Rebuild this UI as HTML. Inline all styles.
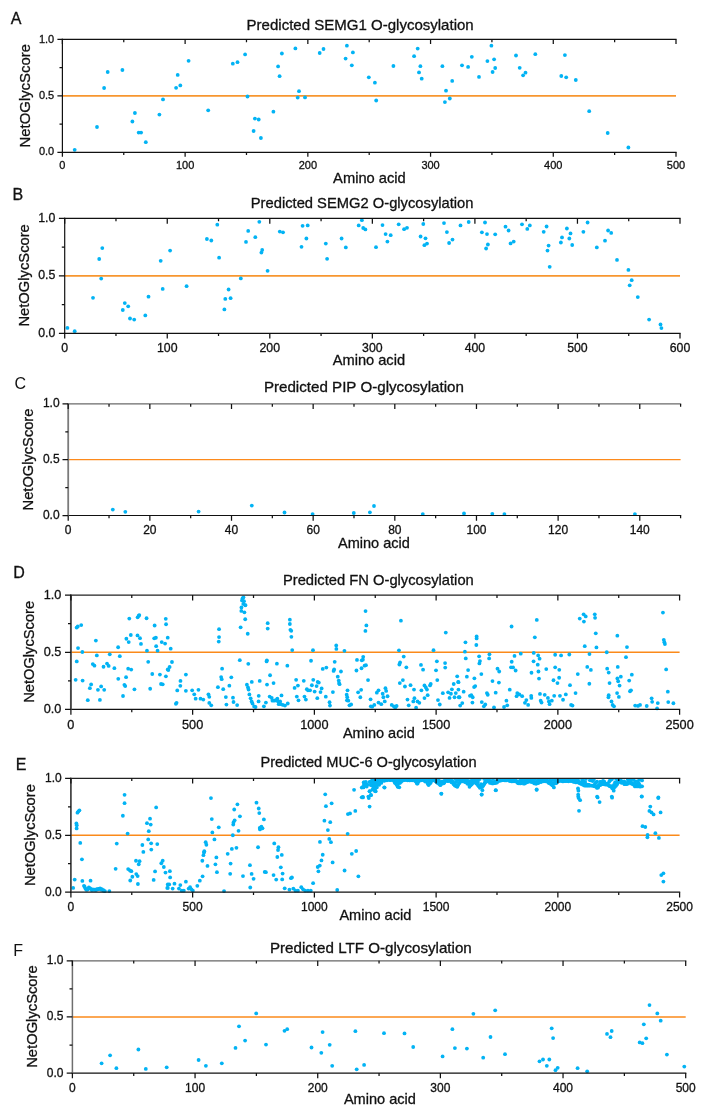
<!DOCTYPE html><html><head><meta charset="utf-8"><style>html,body{margin:0;padding:0;background:#fff;}svg{display:block;will-change:transform;filter:blur(0.3px);}text{font-family:"Liberation Sans",sans-serif;fill:#111;stroke:#111;stroke-width:0.3px;} .thin text{stroke-width:0;}</style></head><body>
<svg width="718" height="1109" viewBox="0 0 718 1109">
<rect width="718" height="1109" fill="#fff"/>
<g><clipPath id="cA"><rect x="62.4" y="39.8" width="617.6" height="115.9"/></clipPath><line x1="62.4" y1="95.85" x2="676" y2="95.85" stroke="#f7962f" stroke-width="1.7"/><g fill="#02b3f4" clip-path="url(#cA)"><circle cx="74.7" cy="149.8" r="1.9"/><circle cx="97" cy="127" r="1.9"/><circle cx="104.1" cy="88" r="1.9"/><circle cx="107.7" cy="72" r="1.9"/><circle cx="122.4" cy="70" r="1.9"/><circle cx="132.4" cy="121.5" r="1.9"/><circle cx="134.9" cy="113" r="1.9"/><circle cx="138.7" cy="132.6" r="1.9"/><circle cx="141.1" cy="132.6" r="1.9"/><circle cx="145.8" cy="142.2" r="1.9"/><circle cx="159.4" cy="114.6" r="1.9"/><circle cx="163" cy="99.4" r="1.9"/><circle cx="176.1" cy="87.8" r="1.9"/><circle cx="180.3" cy="85.4" r="1.9"/><circle cx="177.7" cy="74.9" r="1.9"/><circle cx="188.6" cy="60.8" r="1.9"/><circle cx="208.2" cy="110.3" r="1.9"/><circle cx="232.8" cy="63.7" r="1.9"/><circle cx="237.5" cy="62.2" r="1.9"/><circle cx="245.1" cy="54.4" r="1.9"/><circle cx="247.5" cy="96.5" r="1.9"/><circle cx="254.9" cy="118.6" r="1.9"/><circle cx="258.7" cy="119.5" r="1.9"/><circle cx="253.6" cy="131" r="1.9"/><circle cx="260.9" cy="138" r="1.9"/><circle cx="273.4" cy="111.7" r="1.9"/><circle cx="278.1" cy="66.4" r="1.9"/><circle cx="279.6" cy="76.2" r="1.9"/><circle cx="281.9" cy="53.5" r="1.9"/><circle cx="295.4" cy="48.4" r="1.9"/><circle cx="299" cy="91.2" r="1.9"/><circle cx="297.7" cy="97.6" r="1.9"/><circle cx="305" cy="97.4" r="1.9"/><circle cx="319.7" cy="53" r="1.9"/><circle cx="323.5" cy="49" r="1.9"/><circle cx="346.9" cy="45.7" r="1.9"/><circle cx="352.9" cy="52.4" r="1.9"/><circle cx="345.6" cy="58.6" r="1.9"/><circle cx="351.8" cy="65.3" r="1.9"/><circle cx="368.8" cy="77.3" r="1.9"/><circle cx="374.9" cy="82.7" r="1.9"/><circle cx="376.2" cy="100.5" r="1.9"/><circle cx="393.4" cy="66" r="1.9"/><circle cx="414.1" cy="56.2" r="1.9"/><circle cx="417.7" cy="48.6" r="1.9"/><circle cx="420.4" cy="66.2" r="1.9"/><circle cx="419" cy="72.4" r="1.9"/><circle cx="421.7" cy="78.7" r="1.9"/><circle cx="442.4" cy="66.2" r="1.9"/><circle cx="446" cy="90.7" r="1.9"/><circle cx="444.9" cy="102.1" r="1.9"/><circle cx="449.8" cy="98.5" r="1.9"/><circle cx="452.2" cy="80.9" r="1.9"/><circle cx="462" cy="65.3" r="1.9"/><circle cx="468.1" cy="66.9" r="1.9"/><circle cx="471.8" cy="56.8" r="1.9"/><circle cx="479" cy="76.9" r="1.9"/><circle cx="487.4" cy="61.1" r="1.9"/><circle cx="491.4" cy="45.7" r="1.9"/><circle cx="494.1" cy="59.3" r="1.9"/><circle cx="495.2" cy="68" r="1.9"/><circle cx="492.6" cy="72" r="1.9"/><circle cx="516" cy="55.5" r="1.9"/><circle cx="519.7" cy="67.8" r="1.9"/><circle cx="525.5" cy="72.7" r="1.9"/><circle cx="523.1" cy="75.3" r="1.9"/><circle cx="535.3" cy="54.2" r="1.9"/><circle cx="564.9" cy="55.1" r="1.9"/><circle cx="561.3" cy="76" r="1.9"/><circle cx="566.2" cy="77.3" r="1.9"/><circle cx="575.8" cy="80" r="1.9"/><circle cx="589.2" cy="111.2" r="1.9"/><circle cx="607.7" cy="133" r="1.9"/><circle cx="628.4" cy="147.5" r="1.9"/></g><line x1="61.8" y1="152.3" x2="676.6" y2="152.3" stroke="#111" stroke-width="1.2"/><line x1="61.8" y1="39.4" x2="676.6" y2="39.4" stroke="#111" stroke-width="1.2"/><line x1="62.4" y1="38.8" x2="62.4" y2="152.9" stroke="#111" stroke-width="1.2"/><path d="M62.4 152.3v4.5M62.4 39.4v4.5M123.76 152.3v2.8M123.76 39.4v2.8M185.12 152.3v4.5M185.12 39.4v4.5M246.48 152.3v2.8M246.48 39.4v2.8M307.84 152.3v4.5M307.84 39.4v4.5M369.2 152.3v2.8M369.2 39.4v2.8M430.56 152.3v4.5M430.56 39.4v4.5M491.92 152.3v2.8M491.92 39.4v2.8M553.28 152.3v4.5M553.28 39.4v4.5M614.64 152.3v2.8M614.64 39.4v2.8M676 152.3v4.5M676 39.4v4.5M62.4 152.3h-5.0M62.4 124.08h-2.9M62.4 95.85h-5.0M62.4 67.62h-2.9M62.4 39.4h-5.0" stroke="#111" stroke-width="1.25" fill="none"/><text x="62.4" y="169.12" font-size="11" text-anchor="middle">0</text><text x="185.12" y="169.12" font-size="11" text-anchor="middle">100</text><text x="307.84" y="169.12" font-size="11" text-anchor="middle">200</text><text x="430.56" y="169.12" font-size="11" text-anchor="middle">300</text><text x="553.28" y="169.12" font-size="11" text-anchor="middle">400</text><text x="676" y="169.12" font-size="11" text-anchor="middle">500</text><text x="54.2" y="155.46" font-size="11" text-anchor="end">0.0</text><text x="54.2" y="99.01" font-size="11" text-anchor="end">0.5</text><text x="54.2" y="42.56" font-size="11" text-anchor="end">1.0</text><text x="10.7" y="24.2" font-size="16">A</text><text x="246.6" y="29.9" font-size="14.5" textLength="227.1" lengthAdjust="spacingAndGlyphs">Predicted SEMG1 O-glycosylation</text><text x="333.1" y="182.7" font-size="14.5" textLength="72.7" lengthAdjust="spacingAndGlyphs">Amino acid</text><text transform="translate(30,95.75) rotate(-90)" x="0" y="0" font-size="15.5" text-anchor="middle" textLength="103.3" lengthAdjust="spacingAndGlyphs">NetOGlycScore</text></g>
<g><clipPath id="cB"><rect x="64.7" y="218.8" width="619.3" height="117.9"/></clipPath><line x1="64.7" y1="275.85" x2="680" y2="275.85" stroke="#f7962f" stroke-width="1.7"/><g fill="#02b3f4" clip-path="url(#cB)"><circle cx="67.4" cy="327.9" r="1.9"/><circle cx="74.7" cy="331.2" r="1.9"/><circle cx="93" cy="297.8" r="1.9"/><circle cx="99.2" cy="259" r="1.9"/><circle cx="102.3" cy="248.1" r="1.9"/><circle cx="101.2" cy="278.6" r="1.9"/><circle cx="122.8" cy="310" r="1.9"/><circle cx="124.8" cy="303.1" r="1.9"/><circle cx="128.2" cy="306.3" r="1.9"/><circle cx="130" cy="318.5" r="1.9"/><circle cx="134.2" cy="319.6" r="1.9"/><circle cx="145.3" cy="315.4" r="1.9"/><circle cx="148.5" cy="296.7" r="1.9"/><circle cx="160.7" cy="260.8" r="1.9"/><circle cx="162.7" cy="288.9" r="1.9"/><circle cx="170.1" cy="250.6" r="1.9"/><circle cx="186.6" cy="286.2" r="1.9"/><circle cx="206.9" cy="239" r="1.9"/><circle cx="211.3" cy="240.5" r="1.9"/><circle cx="217.3" cy="224.7" r="1.9"/><circle cx="219.1" cy="257.7" r="1.9"/><circle cx="224.4" cy="309.4" r="1.9"/><circle cx="225.3" cy="298.9" r="1.9"/><circle cx="230.6" cy="298.2" r="1.9"/><circle cx="228.6" cy="289.5" r="1.9"/><circle cx="240.8" cy="278.4" r="1.9"/><circle cx="246" cy="241.9" r="1.9"/><circle cx="248.2" cy="230.9" r="1.9"/><circle cx="255.3" cy="237.2" r="1.9"/><circle cx="259.3" cy="221.8" r="1.9"/><circle cx="261.4" cy="252.6" r="1.9"/><circle cx="262.2" cy="249.9" r="1.9"/><circle cx="267.6" cy="270.8" r="1.9"/><circle cx="279.8" cy="231.6" r="1.9"/><circle cx="283" cy="232.3" r="1.9"/><circle cx="301.5" cy="246.8" r="1.9"/><circle cx="302.6" cy="225.8" r="1.9"/><circle cx="307.7" cy="225.4" r="1.9"/><circle cx="306.4" cy="238.5" r="1.9"/><circle cx="325.8" cy="243.6" r="1.9"/><circle cx="327.1" cy="258.8" r="1.9"/><circle cx="341.6" cy="238.5" r="1.9"/><circle cx="345.8" cy="247.4" r="1.9"/><circle cx="358.7" cy="225.4" r="1.9"/><circle cx="361.9" cy="220.2" r="1.9"/><circle cx="363.2" cy="228" r="1.9"/><circle cx="365.4" cy="229.4" r="1.9"/><circle cx="376" cy="247.2" r="1.9"/><circle cx="382.5" cy="225.1" r="1.9"/><circle cx="385.6" cy="234.1" r="1.9"/><circle cx="390.7" cy="235.2" r="1.9"/><circle cx="387.4" cy="241.6" r="1.9"/><circle cx="398.7" cy="224.3" r="1.9"/><circle cx="404.1" cy="229.2" r="1.9"/><circle cx="407" cy="227.8" r="1.9"/><circle cx="420.6" cy="236.5" r="1.9"/><circle cx="423.3" cy="224" r="1.9"/><circle cx="425.5" cy="238.3" r="1.9"/><circle cx="424.4" cy="245.2" r="1.9"/><circle cx="427" cy="243.6" r="1.9"/><circle cx="444" cy="223.1" r="1.9"/><circle cx="446.9" cy="232.1" r="1.9"/><circle cx="449.1" cy="243" r="1.9"/><circle cx="452.5" cy="239.6" r="1.9"/><circle cx="460.5" cy="225.4" r="1.9"/><circle cx="468.7" cy="222" r="1.9"/><circle cx="485" cy="222.5" r="1.9"/><circle cx="481.9" cy="232.3" r="1.9"/><circle cx="487" cy="234.1" r="1.9"/><circle cx="495.2" cy="234.3" r="1.9"/><circle cx="487.9" cy="244.5" r="1.9"/><circle cx="486.1" cy="248.5" r="1.9"/><circle cx="505.5" cy="226.7" r="1.9"/><circle cx="508.6" cy="230.5" r="1.9"/><circle cx="510.6" cy="243.4" r="1.9"/><circle cx="513.7" cy="241.6" r="1.9"/><circle cx="522" cy="224.3" r="1.9"/><circle cx="527.3" cy="228.9" r="1.9"/><circle cx="529.8" cy="225.4" r="1.9"/><circle cx="543.7" cy="231.8" r="1.9"/><circle cx="546.6" cy="226.5" r="1.9"/><circle cx="548.6" cy="245.6" r="1.9"/><circle cx="547.5" cy="250.6" r="1.9"/><circle cx="549.7" cy="266.8" r="1.9"/><circle cx="560.9" cy="242.5" r="1.9"/><circle cx="562" cy="237.4" r="1.9"/><circle cx="566.9" cy="228.5" r="1.9"/><circle cx="570.5" cy="233.4" r="1.9"/><circle cx="569.3" cy="238.5" r="1.9"/><circle cx="572.2" cy="245" r="1.9"/><circle cx="583.4" cy="231.8" r="1.9"/><circle cx="587.6" cy="222.5" r="1.9"/><circle cx="596.8" cy="247.4" r="1.9"/><circle cx="605" cy="240.7" r="1.9"/><circle cx="608.1" cy="230.5" r="1.9"/><circle cx="611.2" cy="232.9" r="1.9"/><circle cx="617" cy="259.9" r="1.9"/><circle cx="628.4" cy="269.9" r="1.9"/><circle cx="631.7" cy="280.2" r="1.9"/><circle cx="629.7" cy="285.3" r="1.9"/><circle cx="637.8" cy="297.1" r="1.9"/><circle cx="649.1" cy="319.6" r="1.9"/><circle cx="660.5" cy="324.5" r="1.9"/><circle cx="661.4" cy="328.1" r="1.9"/></g><line x1="64.1" y1="333.3" x2="680.6" y2="333.3" stroke="#111" stroke-width="1.2"/><line x1="64.1" y1="218.4" x2="680.6" y2="218.4" stroke="#111" stroke-width="1.2"/><line x1="64.7" y1="217.8" x2="64.7" y2="333.9" stroke="#111" stroke-width="1.2"/><path d="M64.7 333.3v5.3M64.7 218.4v5.3M115.97 333.3v2.8M115.97 218.4v2.8M167.25 333.3v5.3M167.25 218.4v5.3M218.52 333.3v2.8M218.52 218.4v2.8M269.8 333.3v5.3M269.8 218.4v5.3M321.07 333.3v2.8M321.07 218.4v2.8M372.35 333.3v5.3M372.35 218.4v5.3M423.62 333.3v2.8M423.62 218.4v2.8M474.9 333.3v5.3M474.9 218.4v5.3M526.17 333.3v2.8M526.17 218.4v2.8M577.45 333.3v5.3M577.45 218.4v5.3M628.73 333.3v2.8M628.73 218.4v2.8M680 333.3v5.3M680 218.4v5.3M64.7 333.3h-5.8M64.7 304.57h-2.9M64.7 275.85h-5.8M64.7 247.12h-2.9M64.7 218.4h-5.8" stroke="#111" stroke-width="1.25" fill="none"/><text x="64.7" y="352.26" font-size="12.3" text-anchor="middle">0</text><text x="167.25" y="352.26" font-size="12.3" text-anchor="middle">100</text><text x="269.8" y="352.26" font-size="12.3" text-anchor="middle">200</text><text x="372.35" y="352.26" font-size="12.3" text-anchor="middle">300</text><text x="474.9" y="352.26" font-size="12.3" text-anchor="middle">400</text><text x="577.45" y="352.26" font-size="12.3" text-anchor="middle">500</text><text x="680" y="352.26" font-size="12.3" text-anchor="middle">600</text><text x="55.3" y="336.93" font-size="12.3" text-anchor="end">0.0</text><text x="55.3" y="279.48" font-size="12.3" text-anchor="end">0.5</text><text x="55.3" y="222.03" font-size="12.3" text-anchor="end">1.0</text><text x="12.6" y="199.8" font-size="16">B</text><text x="250.8" y="208" font-size="14.5" textLength="222.7" lengthAdjust="spacingAndGlyphs">Predicted SEMG2 O-glycosylation</text><text x="332.7" y="365.4" font-size="14.5" textLength="72.4" lengthAdjust="spacingAndGlyphs">Amino acid</text><text transform="translate(29,275.4) rotate(-90)" x="0" y="0" font-size="15.5" text-anchor="middle" textLength="102.4" lengthAdjust="spacingAndGlyphs">NetOGlycScore</text></g>
<g><clipPath id="cC"><rect x="68.2" y="404.3" width="616.4" height="114.6"/></clipPath><line x1="68.2" y1="459.7" x2="680.6" y2="459.7" stroke="#fd8a1c" stroke-width="1.3"/><g fill="#02b3f4" clip-path="url(#cC)"><circle cx="112.8" cy="509.6" r="1.9"/><circle cx="125.3" cy="511.8" r="1.9"/><circle cx="198.6" cy="511.6" r="1.9"/><circle cx="251.8" cy="505.6" r="1.9"/><circle cx="284.5" cy="512.5" r="1.9"/><circle cx="312.6" cy="514.1" r="1.9"/><circle cx="353.8" cy="513" r="1.9"/><circle cx="369.9" cy="512.3" r="1.9"/><circle cx="374" cy="506" r="1.9"/><circle cx="422.8" cy="514.1" r="1.9"/><circle cx="464" cy="513.4" r="1.9"/><circle cx="492.3" cy="513.8" r="1.9"/><circle cx="504.4" cy="514.1" r="1.9"/><circle cx="634.9" cy="514.1" r="1.9"/></g><line x1="67.6" y1="515.5" x2="681.2" y2="515.5" stroke="#111" stroke-width="1.2"/><line x1="67.6" y1="403.9" x2="681.2" y2="403.9" stroke="#6a6a6a" stroke-width="1.2"/><line x1="68.2" y1="403.3" x2="68.2" y2="516.1" stroke="#7a7a7a" stroke-width="1.8"/><path d="M68.2 515.5v5.2M68.2 403.9v5.2M109.03 515.5v2.8M109.03 403.9v2.8M149.85 515.5v5.2M149.85 403.9v5.2M190.68 515.5v2.8M190.68 403.9v2.8M231.51 515.5v5.2M231.51 403.9v5.2M272.33 515.5v2.8M272.33 403.9v2.8M313.16 515.5v5.2M313.16 403.9v5.2M353.99 515.5v2.8M353.99 403.9v2.8M394.81 515.5v5.2M394.81 403.9v5.2M435.64 515.5v2.8M435.64 403.9v2.8M476.47 515.5v5.2M476.47 403.9v5.2M517.29 515.5v2.8M517.29 403.9v2.8M558.12 515.5v5.2M558.12 403.9v5.2M598.95 515.5v2.8M598.95 403.9v2.8M639.77 515.5v5.2M639.77 403.9v5.2M680.6 515.5v2.8M680.6 403.9v2.8M68.2 515.5h-5.7M68.2 487.6h-2.9M68.2 459.7h-5.7M68.2 431.8h-2.9M68.2 403.9h-5.7" stroke="#111" stroke-width="1.25" fill="none"/><text x="68.2" y="533.94" font-size="12" text-anchor="middle">0</text><text x="149.85" y="533.94" font-size="12" text-anchor="middle">20</text><text x="231.51" y="533.94" font-size="12" text-anchor="middle">40</text><text x="313.16" y="533.94" font-size="12" text-anchor="middle">60</text><text x="394.81" y="533.94" font-size="12" text-anchor="middle">80</text><text x="476.47" y="533.94" font-size="12" text-anchor="middle">100</text><text x="558.12" y="533.94" font-size="12" text-anchor="middle">120</text><text x="639.77" y="533.94" font-size="12" text-anchor="middle">140</text><text x="59.6" y="519.02" font-size="12" text-anchor="end">0.0</text><text x="59.6" y="463.22" font-size="12" text-anchor="end">0.5</text><text x="59.6" y="407.42" font-size="12" text-anchor="end">1.0</text><text x="14.4" y="388.6" font-size="16" style="stroke-width:0">C</text><text x="263.9" y="391.7" font-size="14.5" textLength="200" lengthAdjust="spacingAndGlyphs">Predicted PIP O-glycosylation</text><text x="338" y="548.1" font-size="14.5" textLength="71.9" lengthAdjust="spacingAndGlyphs">Amino acid</text><text transform="translate(32.9,459.5) rotate(-90)" x="0" y="0" font-size="15.5" text-anchor="middle" textLength="101.8" lengthAdjust="spacingAndGlyphs">NetOGlycScore</text></g>
<g><clipPath id="cD"><rect x="70.9" y="595.5" width="612.7" height="117.3"/></clipPath><line x1="70.9" y1="652.25" x2="679.6" y2="652.25" stroke="#fb8a1a" stroke-width="1.55"/><g fill="#02b3f4" clip-path="url(#cD)"><circle cx="76.64" cy="627.6" r="1.9"/><circle cx="77.75" cy="626.49" r="1.9"/><circle cx="81.23" cy="625.1" r="1.9"/><circle cx="78.03" cy="648.08" r="1.9"/><circle cx="82.35" cy="651.98" r="1.9"/><circle cx="76.77" cy="661.45" r="1.9"/><circle cx="75.66" cy="679.83" r="1.9"/><circle cx="82.62" cy="680.53" r="1.9"/><circle cx="95.86" cy="640.56" r="1.9"/><circle cx="96.83" cy="655.46" r="1.9"/><circle cx="92.79" cy="664.09" r="1.9"/><circle cx="94.46" cy="665.63" r="1.9"/><circle cx="103.52" cy="666.74" r="1.9"/><circle cx="107" cy="663.54" r="1.9"/><circle cx="108.67" cy="665.91" r="1.9"/><circle cx="109.78" cy="654.35" r="1.9"/><circle cx="114.38" cy="668.13" r="1.9"/><circle cx="118.14" cy="647.24" r="1.9"/><circle cx="119.81" cy="656.16" r="1.9"/><circle cx="118.28" cy="678.86" r="1.9"/><circle cx="91.12" cy="684.43" r="1.9"/><circle cx="89.87" cy="688.19" r="1.9"/><circle cx="101.15" cy="686.38" r="1.9"/><circle cx="97.94" cy="689.86" r="1.9"/><circle cx="104.21" cy="689.86" r="1.9"/><circle cx="87.78" cy="700.17" r="1.9"/><circle cx="99.89" cy="699.89" r="1.9"/><circle cx="123.01" cy="695.99" r="1.9"/><circle cx="124.41" cy="684.85" r="1.9"/><circle cx="125.24" cy="686.1" r="1.9"/><circle cx="126.08" cy="677.19" r="1.9"/><circle cx="126.36" cy="638.75" r="1.9"/><circle cx="128.72" cy="642.09" r="1.9"/><circle cx="130.81" cy="634.99" r="1.9"/><circle cx="129.28" cy="618.55" r="1.9"/><circle cx="128.17" cy="668.69" r="1.9"/><circle cx="131.23" cy="669.53" r="1.9"/><circle cx="134.43" cy="689.3" r="1.9"/><circle cx="137.64" cy="617.3" r="1.9"/><circle cx="138.75" cy="615.77" r="1.9"/><circle cx="139.31" cy="615.07" r="1.9"/><circle cx="137.5" cy="635.4" r="1.9"/><circle cx="140.01" cy="638.19" r="1.9"/><circle cx="140.98" cy="643.9" r="1.9"/><circle cx="146.55" cy="618.27" r="1.9"/><circle cx="146.97" cy="650.72" r="1.9"/><circle cx="148.22" cy="661.87" r="1.9"/><circle cx="150.17" cy="688.75" r="1.9"/><circle cx="152.26" cy="673.98" r="1.9"/><circle cx="154.63" cy="625.52" r="1.9"/><circle cx="154.21" cy="638.33" r="1.9"/><circle cx="155.88" cy="637.77" r="1.9"/><circle cx="156.16" cy="646.13" r="1.9"/><circle cx="157.55" cy="650.72" r="1.9"/><circle cx="159.92" cy="674.54" r="1.9"/><circle cx="161.04" cy="684.01" r="1.9"/><circle cx="162.71" cy="684.29" r="1.9"/><circle cx="161.73" cy="642.09" r="1.9"/><circle cx="165.08" cy="643.62" r="1.9"/><circle cx="165.77" cy="618.83" r="1.9"/><circle cx="166.05" cy="624.26" r="1.9"/><circle cx="165.91" cy="676.35" r="1.9"/><circle cx="167.72" cy="669.39" r="1.9"/><circle cx="167.72" cy="637.63" r="1.9"/><circle cx="170.71" cy="648.64" r="1.9"/><circle cx="171.96" cy="662.01" r="1.9"/><circle cx="169.6" cy="667.02" r="1.9"/><circle cx="168.34" cy="670.08" r="1.9"/><circle cx="185.89" cy="674.54" r="1.9"/><circle cx="180.46" cy="680.95" r="1.9"/><circle cx="180.32" cy="685.82" r="1.9"/><circle cx="177.26" cy="690.42" r="1.9"/><circle cx="185.89" cy="690.84" r="1.9"/><circle cx="176.56" cy="702.81" r="1.9"/><circle cx="175.86" cy="703.79" r="1.9"/><circle cx="192.16" cy="690.28" r="1.9"/><circle cx="194.25" cy="694.32" r="1.9"/><circle cx="195.64" cy="698.64" r="1.9"/><circle cx="198.43" cy="689.86" r="1.9"/><circle cx="200.52" cy="698.64" r="1.9"/><circle cx="203.3" cy="699.61" r="1.9"/><circle cx="208.45" cy="694.32" r="1.9"/><circle cx="209.29" cy="696.82" r="1.9"/><circle cx="209.29" cy="702.95" r="1.9"/><circle cx="211.24" cy="705.32" r="1.9"/><circle cx="217.92" cy="687.21" r="1.9"/><circle cx="219.04" cy="629.14" r="1.9"/><circle cx="219.04" cy="637.08" r="1.9"/><circle cx="218.76" cy="641.53" r="1.9"/><circle cx="222.1" cy="668.69" r="1.9"/><circle cx="221.13" cy="677.05" r="1.9"/><circle cx="221.69" cy="679.14" r="1.9"/><circle cx="223.22" cy="689.16" r="1.9"/><circle cx="225.86" cy="697.1" r="1.9"/><circle cx="226.42" cy="704.62" r="1.9"/><circle cx="229.35" cy="685.68" r="1.9"/><circle cx="231.3" cy="677.33" r="1.9"/><circle cx="232.97" cy="697.66" r="1.9"/><circle cx="233.52" cy="701.98" r="1.9"/><circle cx="237.14" cy="705.04" r="1.9"/><circle cx="239.79" cy="660.19" r="1.9"/><circle cx="240.63" cy="627.33" r="1.9"/><circle cx="241.32" cy="610.89" r="1.9"/><circle cx="241.46" cy="607.41" r="1.9"/><circle cx="242.02" cy="600.45" r="1.9"/><circle cx="242.58" cy="598.36" r="1.9"/><circle cx="243.41" cy="597.24" r="1.9"/><circle cx="243.97" cy="601.14" r="1.9"/><circle cx="243.27" cy="603.93" r="1.9"/><circle cx="245.22" cy="605.32" r="1.9"/><circle cx="245.5" cy="605.04" r="1.9"/><circle cx="244.39" cy="612.28" r="1.9"/><circle cx="245.22" cy="619.25" r="1.9"/><circle cx="247.73" cy="633.73" r="1.9"/><circle cx="248.29" cy="663.82" r="1.9"/><circle cx="246.89" cy="684.71" r="1.9"/><circle cx="248.01" cy="687.49" r="1.9"/><circle cx="248.57" cy="689.58" r="1.9"/><circle cx="249.4" cy="694.46" r="1.9"/><circle cx="250.65" cy="698.36" r="1.9"/><circle cx="251.63" cy="701.42" r="1.9"/><circle cx="252.47" cy="703.51" r="1.9"/><circle cx="254.14" cy="706.43" r="1.9"/><circle cx="255.53" cy="706.99" r="1.9"/><circle cx="251.77" cy="681.92" r="1.9"/><circle cx="259.71" cy="680.95" r="1.9"/><circle cx="258.73" cy="695.85" r="1.9"/><circle cx="258.59" cy="701.42" r="1.9"/><circle cx="263.89" cy="706.3" r="1.9"/><circle cx="267.71" cy="623.15" r="1.9"/><circle cx="267.71" cy="628.58" r="1.9"/><circle cx="266.87" cy="660.33" r="1.9"/><circle cx="266.6" cy="661.45" r="1.9"/><circle cx="276.9" cy="663.68" r="1.9"/><circle cx="270.08" cy="675.24" r="1.9"/><circle cx="267.01" cy="684.57" r="1.9"/><circle cx="273.56" cy="683.04" r="1.9"/><circle cx="265.9" cy="702.53" r="1.9"/><circle cx="269.66" cy="696.55" r="1.9"/><circle cx="271.75" cy="697.94" r="1.9"/><circle cx="272.45" cy="700.72" r="1.9"/><circle cx="274.53" cy="700.72" r="1.9"/><circle cx="275.93" cy="700.03" r="1.9"/><circle cx="277.32" cy="698.64" r="1.9"/><circle cx="278.02" cy="701.42" r="1.9"/><circle cx="278.71" cy="704.21" r="1.9"/><circle cx="280.11" cy="701.42" r="1.9"/><circle cx="281.5" cy="695.43" r="1.9"/><circle cx="280.8" cy="704.21" r="1.9"/><circle cx="282.89" cy="704.9" r="1.9"/><circle cx="284.98" cy="705.6" r="1.9"/><circle cx="287.77" cy="703.51" r="1.9"/><circle cx="287.35" cy="665.63" r="1.9"/><circle cx="289.86" cy="619.67" r="1.9"/><circle cx="289.86" cy="623.98" r="1.9"/><circle cx="290.41" cy="629.83" r="1.9"/><circle cx="291.25" cy="630.81" r="1.9"/><circle cx="291.39" cy="636.8" r="1.9"/><circle cx="292.22" cy="650.03" r="1.9"/><circle cx="296.12" cy="679.83" r="1.9"/><circle cx="297.93" cy="685.54" r="1.9"/><circle cx="294.59" cy="687.91" r="1.9"/><circle cx="296.82" cy="696.55" r="1.9"/><circle cx="298.49" cy="700.31" r="1.9"/><circle cx="303.78" cy="680.81" r="1.9"/><circle cx="304.48" cy="696.55" r="1.9"/><circle cx="305.87" cy="699.61" r="1.9"/><circle cx="306.85" cy="689.16" r="1.9"/><circle cx="307.96" cy="690.28" r="1.9"/><circle cx="310.05" cy="690.28" r="1.9"/><circle cx="311.03" cy="660.75" r="1.9"/><circle cx="311.86" cy="685.26" r="1.9"/><circle cx="313.25" cy="679.83" r="1.9"/><circle cx="312.97" cy="650.17" r="1.9"/><circle cx="314.65" cy="691.53" r="1.9"/><circle cx="316.6" cy="686.1" r="1.9"/><circle cx="317.71" cy="681.92" r="1.9"/><circle cx="318.82" cy="682.62" r="1.9"/><circle cx="317.29" cy="698.22" r="1.9"/><circle cx="320.5" cy="692.09" r="1.9"/><circle cx="321.61" cy="688.47" r="1.9"/><circle cx="322.72" cy="668.97" r="1.9"/><circle cx="326.35" cy="667.58" r="1.9"/><circle cx="325.79" cy="696.69" r="1.9"/><circle cx="329.55" cy="702.26" r="1.9"/><circle cx="329.97" cy="705.6" r="1.9"/><circle cx="332.89" cy="692.09" r="1.9"/><circle cx="334.7" cy="661.87" r="1.9"/><circle cx="334.14" cy="669.39" r="1.9"/><circle cx="333.59" cy="670.92" r="1.9"/><circle cx="336.23" cy="645.43" r="1.9"/><circle cx="336.37" cy="648.91" r="1.9"/><circle cx="337.77" cy="676.63" r="1.9"/><circle cx="338.74" cy="680.53" r="1.9"/><circle cx="339.02" cy="683.04" r="1.9"/><circle cx="339.58" cy="684.15" r="1.9"/><circle cx="340.97" cy="671.48" r="1.9"/><circle cx="344.45" cy="650.86" r="1.9"/><circle cx="347.52" cy="690.28" r="1.9"/><circle cx="346.68" cy="694.74" r="1.9"/><circle cx="347.24" cy="697.24" r="1.9"/><circle cx="346.96" cy="700.31" r="1.9"/><circle cx="348.35" cy="700.72" r="1.9"/><circle cx="349.47" cy="705.32" r="1.9"/><circle cx="351.14" cy="704.48" r="1.9"/><circle cx="356.99" cy="659.92" r="1.9"/><circle cx="356.43" cy="670.5" r="1.9"/><circle cx="358.1" cy="692.37" r="1.9"/><circle cx="360.33" cy="697.24" r="1.9"/><circle cx="361.16" cy="689.86" r="1.9"/><circle cx="361.72" cy="660.33" r="1.9"/><circle cx="365.55" cy="611.03" r="1.9"/><circle cx="366.38" cy="625.38" r="1.9"/><circle cx="365.41" cy="630.95" r="1.9"/><circle cx="363.18" cy="656.85" r="1.9"/><circle cx="362.9" cy="659.64" r="1.9"/><circle cx="364.57" cy="665.63" r="1.9"/><circle cx="365.96" cy="665.21" r="1.9"/><circle cx="361.51" cy="668.27" r="1.9"/><circle cx="368.05" cy="680.11" r="1.9"/><circle cx="370.56" cy="699.33" r="1.9"/><circle cx="370.84" cy="706.3" r="1.9"/><circle cx="372.23" cy="706.71" r="1.9"/><circle cx="374.32" cy="704.9" r="1.9"/><circle cx="376.83" cy="692.65" r="1.9"/><circle cx="378.5" cy="690.28" r="1.9"/><circle cx="382.68" cy="693.76" r="1.9"/><circle cx="383.37" cy="697.24" r="1.9"/><circle cx="384.77" cy="701.42" r="1.9"/><circle cx="381.28" cy="704.21" r="1.9"/><circle cx="378.5" cy="702.53" r="1.9"/><circle cx="385.46" cy="688.19" r="1.9"/><circle cx="386.16" cy="690.97" r="1.9"/><circle cx="387.55" cy="696.27" r="1.9"/><circle cx="391.73" cy="704.9" r="1.9"/><circle cx="393.82" cy="706.3" r="1.9"/><circle cx="396.6" cy="706.02" r="1.9"/><circle cx="395.21" cy="707.69" r="1.9"/><circle cx="400.92" cy="620.64" r="1.9"/><circle cx="398.97" cy="650.31" r="1.9"/><circle cx="403.71" cy="656.57" r="1.9"/><circle cx="400.09" cy="662.42" r="1.9"/><circle cx="399.39" cy="664.51" r="1.9"/><circle cx="406.35" cy="667.3" r="1.9"/><circle cx="402.87" cy="680.11" r="1.9"/><circle cx="399.81" cy="683.04" r="1.9"/><circle cx="404.96" cy="686.52" r="1.9"/><circle cx="410.53" cy="685.13" r="1.9"/><circle cx="407.47" cy="699.61" r="1.9"/><circle cx="408.72" cy="705.32" r="1.9"/><circle cx="414.01" cy="689.58" r="1.9"/><circle cx="414.43" cy="698.22" r="1.9"/><circle cx="413.32" cy="701.42" r="1.9"/><circle cx="416.1" cy="707.69" r="1.9"/><circle cx="417.5" cy="701.42" r="1.9"/><circle cx="419.31" cy="702.81" r="1.9"/><circle cx="420.98" cy="664.93" r="1.9"/><circle cx="423.07" cy="669.67" r="1.9"/><circle cx="421.4" cy="690.28" r="1.9"/><circle cx="424.46" cy="685.4" r="1.9"/><circle cx="425.85" cy="687.49" r="1.9"/><circle cx="426.97" cy="689.58" r="1.9"/><circle cx="424.46" cy="698.08" r="1.9"/><circle cx="427.66" cy="695.15" r="1.9"/><circle cx="430.03" cy="685.4" r="1.9"/><circle cx="430.73" cy="684.01" r="1.9"/><circle cx="433.51" cy="650.17" r="1.9"/><circle cx="436.86" cy="661.31" r="1.9"/><circle cx="436.02" cy="670.36" r="1.9"/><circle cx="437.27" cy="680.11" r="1.9"/><circle cx="437.97" cy="700.03" r="1.9"/><circle cx="439.78" cy="704.48" r="1.9"/><circle cx="442.84" cy="693.2" r="1.9"/><circle cx="445.77" cy="632.62" r="1.9"/><circle cx="445.07" cy="663.12" r="1.9"/><circle cx="445.21" cy="667.58" r="1.9"/><circle cx="448.14" cy="692.37" r="1.9"/><circle cx="450.92" cy="693.76" r="1.9"/><circle cx="449.53" cy="697.94" r="1.9"/><circle cx="451.9" cy="689.3" r="1.9"/><circle cx="453.71" cy="684.01" r="1.9"/><circle cx="454.54" cy="697.24" r="1.9"/><circle cx="455.8" cy="693.06" r="1.9"/><circle cx="457.19" cy="676.35" r="1.9"/><circle cx="458.16" cy="681.92" r="1.9"/><circle cx="458.44" cy="689.58" r="1.9"/><circle cx="458.72" cy="697.24" r="1.9"/><circle cx="465.47" cy="642.37" r="1.9"/><circle cx="464.91" cy="651.7" r="1.9"/><circle cx="465.75" cy="658.38" r="1.9"/><circle cx="468.12" cy="670.08" r="1.9"/><circle cx="466.86" cy="676.63" r="1.9"/><circle cx="463.66" cy="691.67" r="1.9"/><circle cx="462.27" cy="703.09" r="1.9"/><circle cx="460.18" cy="705.6" r="1.9"/><circle cx="459.48" cy="697.24" r="1.9"/><circle cx="458.51" cy="682.2" r="1.9"/><circle cx="476.61" cy="636.38" r="1.9"/><circle cx="476.61" cy="638.47" r="1.9"/><circle cx="476.33" cy="645.01" r="1.9"/><circle cx="479.12" cy="656.3" r="1.9"/><circle cx="479.96" cy="661.03" r="1.9"/><circle cx="479.4" cy="663.4" r="1.9"/><circle cx="474.38" cy="678.3" r="1.9"/><circle cx="481.35" cy="674.12" r="1.9"/><circle cx="474.11" cy="687.08" r="1.9"/><circle cx="475.22" cy="686.1" r="1.9"/><circle cx="469.93" cy="695.85" r="1.9"/><circle cx="471.32" cy="695.15" r="1.9"/><circle cx="472.71" cy="697.24" r="1.9"/><circle cx="472.43" cy="702.53" r="1.9"/><circle cx="481.77" cy="702.12" r="1.9"/><circle cx="485.25" cy="704.48" r="1.9"/><circle cx="483.86" cy="706.3" r="1.9"/><circle cx="486.92" cy="693.06" r="1.9"/><circle cx="487.75" cy="694.74" r="1.9"/><circle cx="489.43" cy="654.35" r="1.9"/><circle cx="489.15" cy="658.38" r="1.9"/><circle cx="492.49" cy="681.09" r="1.9"/><circle cx="495.69" cy="692.65" r="1.9"/><circle cx="494.02" cy="707.41" r="1.9"/><circle cx="497.5" cy="668.69" r="1.9"/><circle cx="499.18" cy="671.48" r="1.9"/><circle cx="498.9" cy="682.62" r="1.9"/><circle cx="504.05" cy="706.99" r="1.9"/><circle cx="506.42" cy="700.72" r="1.9"/><circle cx="507.25" cy="705.32" r="1.9"/><circle cx="509.76" cy="689.72" r="1.9"/><circle cx="511.57" cy="626.49" r="1.9"/><circle cx="511.71" cy="661.73" r="1.9"/><circle cx="511.01" cy="667.3" r="1.9"/><circle cx="513.1" cy="667.44" r="1.9"/><circle cx="515.61" cy="670.5" r="1.9"/><circle cx="514.5" cy="655.88" r="1.9"/><circle cx="520.76" cy="653.65" r="1.9"/><circle cx="517.28" cy="693.06" r="1.9"/><circle cx="516.58" cy="696.13" r="1.9"/><circle cx="519.37" cy="694.46" r="1.9"/><circle cx="522.16" cy="696.13" r="1.9"/><circle cx="526.33" cy="700.03" r="1.9"/><circle cx="524.94" cy="702.81" r="1.9"/><circle cx="528.14" cy="704.9" r="1.9"/><circle cx="531.21" cy="695.85" r="1.9"/><circle cx="531.35" cy="697.94" r="1.9"/><circle cx="531.49" cy="672.73" r="1.9"/><circle cx="533.58" cy="661.31" r="1.9"/><circle cx="533.72" cy="652.95" r="1.9"/><circle cx="534.83" cy="637.35" r="1.9"/><circle cx="536.78" cy="619.94" r="1.9"/><circle cx="538.17" cy="655.46" r="1.9"/><circle cx="539.57" cy="658.66" r="1.9"/><circle cx="537.75" cy="664.65" r="1.9"/><circle cx="538.45" cy="671.48" r="1.9"/><circle cx="539.01" cy="678.58" r="1.9"/><circle cx="539.98" cy="693.9" r="1.9"/><circle cx="540.68" cy="700.72" r="1.9"/><circle cx="541.52" cy="702.53" r="1.9"/><circle cx="544.72" cy="694.87" r="1.9"/><circle cx="547.92" cy="697.94" r="1.9"/><circle cx="548.9" cy="701.42" r="1.9"/><circle cx="549.59" cy="704.21" r="1.9"/><circle cx="551.82" cy="700.72" r="1.9"/><circle cx="546.25" cy="669.11" r="1.9"/><circle cx="553.49" cy="680.25" r="1.9"/><circle cx="554.19" cy="695.85" r="1.9"/><circle cx="555.16" cy="667.3" r="1.9"/><circle cx="555.16" cy="654.76" r="1.9"/><circle cx="561.08" cy="655.46" r="1.9"/><circle cx="559.27" cy="669.81" r="1.9"/><circle cx="559.13" cy="677.74" r="1.9"/><circle cx="557.46" cy="683.04" r="1.9"/><circle cx="559.96" cy="695.85" r="1.9"/><circle cx="563.03" cy="699.75" r="1.9"/><circle cx="565.81" cy="694.46" r="1.9"/><circle cx="569.3" cy="654.48" r="1.9"/><circle cx="569.99" cy="685.13" r="1.9"/><circle cx="571.11" cy="704.9" r="1.9"/><circle cx="572.5" cy="705.6" r="1.9"/><circle cx="575.56" cy="693.06" r="1.9"/><circle cx="577.79" cy="674.12" r="1.9"/><circle cx="579.74" cy="618.55" r="1.9"/><circle cx="583.64" cy="614.37" r="1.9"/><circle cx="585.73" cy="616.46" r="1.9"/><circle cx="583.92" cy="621.62" r="1.9"/><circle cx="584.75" cy="646.13" r="1.9"/><circle cx="587.26" cy="666.88" r="1.9"/><circle cx="590.88" cy="669.94" r="1.9"/><circle cx="589.49" cy="654.07" r="1.9"/><circle cx="589.35" cy="683.73" r="1.9"/><circle cx="594.78" cy="614.37" r="1.9"/><circle cx="595.06" cy="617.86" r="1.9"/><circle cx="595.76" cy="633.31" r="1.9"/><circle cx="596.45" cy="647.38" r="1.9"/><circle cx="606.76" cy="652.26" r="1.9"/><circle cx="607.18" cy="668.69" r="1.9"/><circle cx="608.71" cy="672.59" r="1.9"/><circle cx="609.55" cy="683.04" r="1.9"/><circle cx="608.71" cy="695.15" r="1.9"/><circle cx="608.43" cy="697.24" r="1.9"/><circle cx="611.5" cy="701.42" r="1.9"/><circle cx="612.61" cy="704.9" r="1.9"/><circle cx="614" cy="706.3" r="1.9"/><circle cx="617.35" cy="635.68" r="1.9"/><circle cx="617.76" cy="666.88" r="1.9"/><circle cx="617.35" cy="678.44" r="1.9"/><circle cx="618.18" cy="681.23" r="1.9"/><circle cx="619.57" cy="685.54" r="1.9"/><circle cx="620.83" cy="676.63" r="1.9"/><circle cx="617.07" cy="693.06" r="1.9"/><circle cx="618.88" cy="696.96" r="1.9"/><circle cx="625.98" cy="657.13" r="1.9"/><circle cx="626.96" cy="647.1" r="1.9"/><circle cx="629.18" cy="680.53" r="1.9"/><circle cx="631.83" cy="674.68" r="1.9"/><circle cx="630.02" cy="691.25" r="1.9"/><circle cx="630.99" cy="690.28" r="1.9"/><circle cx="635.17" cy="705.6" r="1.9"/><circle cx="637.96" cy="705.88" r="1.9"/><circle cx="640.05" cy="704.9" r="1.9"/><circle cx="646.73" cy="706.02" r="1.9"/><circle cx="651.61" cy="698.36" r="1.9"/><circle cx="652.16" cy="701.84" r="1.9"/><circle cx="657.8" cy="703.09" r="1.9"/><circle cx="657.1" cy="708.38" r="1.9"/><circle cx="662.95" cy="612.56" r="1.9"/><circle cx="663.79" cy="639.86" r="1.9"/><circle cx="664.35" cy="642.23" r="1.9"/><circle cx="664.9" cy="644.04" r="1.9"/><circle cx="666.16" cy="669.39" r="1.9"/><circle cx="667.83" cy="691.67" r="1.9"/><circle cx="668.25" cy="702.12" r="1.9"/><circle cx="673.4" cy="703.23" r="1.9"/></g><line x1="70.3" y1="709.4" x2="680.2" y2="709.4" stroke="#111" stroke-width="1.2"/><line x1="70.3" y1="595.1" x2="680.2" y2="595.1" stroke="#222" stroke-width="1.2"/><line x1="70.9" y1="594.5" x2="70.9" y2="710" stroke="#444" stroke-width="1.9"/><path d="M70.9 709.4v5.4M70.9 595.1v5.4M131.77 709.4v2.8M131.77 595.1v2.8M192.64 709.4v5.4M192.64 595.1v5.4M253.51 709.4v2.8M253.51 595.1v2.8M314.38 709.4v5.4M314.38 595.1v5.4M375.25 709.4v2.8M375.25 595.1v2.8M436.12 709.4v5.4M436.12 595.1v5.4M496.99 709.4v2.8M496.99 595.1v2.8M557.86 709.4v5.4M557.86 595.1v5.4M618.73 709.4v2.8M618.73 595.1v2.8M679.6 709.4v5.4M679.6 595.1v5.4M70.9 709.4h-5.9M70.9 680.83h-2.9M70.9 652.25h-5.9M70.9 623.67h-2.9M70.9 595.1h-5.9" stroke="#111" stroke-width="1.25" fill="none"/><text x="70.9" y="729.14" font-size="12.7" text-anchor="middle">0</text><text x="192.64" y="729.14" font-size="12.7" text-anchor="middle">500</text><text x="314.38" y="729.14" font-size="12.7" text-anchor="middle">1000</text><text x="436.12" y="729.14" font-size="12.7" text-anchor="middle">1500</text><text x="557.86" y="729.14" font-size="12.7" text-anchor="middle">2000</text><text x="679.6" y="729.14" font-size="12.7" text-anchor="middle">2500</text><text x="61.4" y="713.17" font-size="12.7" text-anchor="end">0.0</text><text x="61.4" y="656.02" font-size="12.7" text-anchor="end">0.5</text><text x="61.4" y="598.87" font-size="12.7" text-anchor="end">1.0</text><text x="13.2" y="578.4" font-size="16">D</text><text x="282.9" y="584.9" font-size="14.5" textLength="190.9" lengthAdjust="spacingAndGlyphs">Predicted FN O-glycosylation</text><text x="342.9" y="738.4" font-size="14.5" textLength="71.9" lengthAdjust="spacingAndGlyphs">Amino acid</text><text transform="translate(33.6,651.85) rotate(-90)" x="0" y="0" font-size="15.5" text-anchor="middle" textLength="101.9" lengthAdjust="spacingAndGlyphs">NetOGlycScore</text></g>
<g><clipPath id="cE"><rect x="70.9" y="778.7" width="612.7" height="116.9"/></clipPath><line x1="70.9" y1="835.25" x2="679.6" y2="835.25" stroke="#fb8a1a" stroke-width="1.55"/><g fill="#02b3f4" clip-path="url(#cE)"><circle cx="73.15" cy="887.9" r="1.9"/><circle cx="74.69" cy="879.55" r="1.9"/><circle cx="76.36" cy="823.42" r="1.9"/><circle cx="76.77" cy="825.23" r="1.9"/><circle cx="76.64" cy="828.43" r="1.9"/><circle cx="77.47" cy="812.69" r="1.9"/><circle cx="78.45" cy="811.3" r="1.9"/><circle cx="79.42" cy="810.33" r="1.9"/><circle cx="80.26" cy="842.92" r="1.9"/><circle cx="81.93" cy="859.35" r="1.9"/><circle cx="82.35" cy="880.94" r="1.9"/><circle cx="84.02" cy="885.81" r="1.9"/><circle cx="85.41" cy="888.6" r="1.9"/><circle cx="86.8" cy="889.71" r="1.9"/><circle cx="88.89" cy="887.48" r="1.9"/><circle cx="90.28" cy="888.32" r="1.9"/><circle cx="90.56" cy="880.66" r="1.9"/><circle cx="92.37" cy="889.3" r="1.9"/><circle cx="93.77" cy="889.71" r="1.9"/><circle cx="95.86" cy="889.99" r="1.9"/><circle cx="97.53" cy="889.3" r="1.9"/><circle cx="99.34" cy="888.88" r="1.9"/><circle cx="101.43" cy="889.71" r="1.9"/><circle cx="103.52" cy="890.69" r="1.9"/><circle cx="104.91" cy="891.11" r="1.9"/><circle cx="109.36" cy="891.11" r="1.9"/><circle cx="115.63" cy="868.82" r="1.9"/><circle cx="116.75" cy="843.61" r="1.9"/><circle cx="122.87" cy="815.76" r="1.9"/><circle cx="124.55" cy="794.87" r="1.9"/><circle cx="124.55" cy="803.22" r="1.9"/><circle cx="127.61" cy="833.58" r="1.9"/><circle cx="128.17" cy="869.1" r="1.9"/><circle cx="129.98" cy="870.49" r="1.9"/><circle cx="131.37" cy="871.19" r="1.9"/><circle cx="130.26" cy="880.52" r="1.9"/><circle cx="132.35" cy="876.76" r="1.9"/><circle cx="135.97" cy="860.74" r="1.9"/><circle cx="136.25" cy="874.11" r="1.9"/><circle cx="137.64" cy="876.06" r="1.9"/><circle cx="137.92" cy="884" r="1.9"/><circle cx="138.75" cy="864.23" r="1.9"/><circle cx="139.59" cy="861.16" r="1.9"/><circle cx="142.37" cy="845.01" r="1.9"/><circle cx="143.35" cy="851.97" r="1.9"/><circle cx="146.97" cy="823.14" r="1.9"/><circle cx="148.78" cy="831.22" r="1.9"/><circle cx="150.03" cy="818.68" r="1.9"/><circle cx="150.73" cy="824.53" r="1.9"/><circle cx="148.22" cy="839.43" r="1.9"/><circle cx="151.15" cy="843.33" r="1.9"/><circle cx="151.29" cy="849.6" r="1.9"/><circle cx="153.65" cy="879.96" r="1.9"/><circle cx="155.05" cy="871.47" r="1.9"/><circle cx="156.16" cy="807.4" r="1.9"/><circle cx="157.28" cy="844.03" r="1.9"/><circle cx="161.31" cy="863.25" r="1.9"/><circle cx="162.71" cy="860.74" r="1.9"/><circle cx="163.82" cy="867.01" r="1.9"/><circle cx="165.49" cy="872.58" r="1.9"/><circle cx="167.3" cy="887.9" r="1.9"/><circle cx="167.72" cy="884.42" r="1.9"/><circle cx="169.87" cy="871.19" r="1.9"/><circle cx="170.15" cy="877.46" r="1.9"/><circle cx="169.18" cy="884.42" r="1.9"/><circle cx="167.79" cy="887.9" r="1.9"/><circle cx="172.66" cy="888.6" r="1.9"/><circle cx="174.47" cy="883.72" r="1.9"/><circle cx="178.93" cy="888.6" r="1.9"/><circle cx="180.32" cy="885.12" r="1.9"/><circle cx="181.71" cy="890.69" r="1.9"/><circle cx="183.8" cy="890.69" r="1.9"/><circle cx="185.89" cy="881.64" r="1.9"/><circle cx="188.68" cy="888.6" r="1.9"/><circle cx="190.07" cy="887.21" r="1.9"/><circle cx="191.46" cy="889.3" r="1.9"/><circle cx="192.86" cy="890.69" r="1.9"/><circle cx="197.31" cy="885.81" r="1.9"/><circle cx="199.82" cy="880.66" r="1.9"/><circle cx="202.6" cy="876.34" r="1.9"/><circle cx="202.33" cy="860.74" r="1.9"/><circle cx="203.44" cy="855.17" r="1.9"/><circle cx="204" cy="852.39" r="1.9"/><circle cx="204.28" cy="851.27" r="1.9"/><circle cx="205.67" cy="842.22" r="1.9"/><circle cx="206.36" cy="844.73" r="1.9"/><circle cx="207.48" cy="865.9" r="1.9"/><circle cx="210.96" cy="798.07" r="1.9"/><circle cx="211.8" cy="819.1" r="1.9"/><circle cx="212.35" cy="832.47" r="1.9"/><circle cx="214.44" cy="839.43" r="1.9"/><circle cx="216.39" cy="857.4" r="1.9"/><circle cx="215.42" cy="864.36" r="1.9"/><circle cx="216.95" cy="872.16" r="1.9"/><circle cx="218.76" cy="827.32" r="1.9"/><circle cx="224.05" cy="891.11" r="1.9"/><circle cx="227.67" cy="853.78" r="1.9"/><circle cx="230.18" cy="873.84" r="1.9"/><circle cx="230.6" cy="863.53" r="1.9"/><circle cx="231.85" cy="848.91" r="1.9"/><circle cx="232.83" cy="835.26" r="1.9"/><circle cx="233.25" cy="824.53" r="1.9"/><circle cx="233.52" cy="822.44" r="1.9"/><circle cx="234.64" cy="820.35" r="1.9"/><circle cx="234.22" cy="809.49" r="1.9"/><circle cx="237.42" cy="804.34" r="1.9"/><circle cx="236.45" cy="847.79" r="1.9"/><circle cx="238.54" cy="830.8" r="1.9"/><circle cx="239.93" cy="816.31" r="1.9"/><circle cx="242.99" cy="876.06" r="1.9"/><circle cx="249.96" cy="865.2" r="1.9"/><circle cx="251.63" cy="873.97" r="1.9"/><circle cx="253.58" cy="878.85" r="1.9"/><circle cx="250.24" cy="887.48" r="1.9"/><circle cx="256.5" cy="802.67" r="1.9"/><circle cx="258.73" cy="808.52" r="1.9"/><circle cx="259.29" cy="813.11" r="1.9"/><circle cx="258.04" cy="847.23" r="1.9"/><circle cx="259.71" cy="828.01" r="1.9"/><circle cx="259.99" cy="829.41" r="1.9"/><circle cx="261.38" cy="826.62" r="1.9"/><circle cx="262.49" cy="828.29" r="1.9"/><circle cx="263.89" cy="819.38" r="1.9"/><circle cx="264.72" cy="871.89" r="1.9"/><circle cx="265.9" cy="872.16" r="1.9"/><circle cx="273.56" cy="875.09" r="1.9"/><circle cx="274.26" cy="843.47" r="1.9"/><circle cx="276.21" cy="879.55" r="1.9"/><circle cx="278.43" cy="847.23" r="1.9"/><circle cx="278.02" cy="850.02" r="1.9"/><circle cx="277.32" cy="856.98" r="1.9"/><circle cx="281.78" cy="854.89" r="1.9"/><circle cx="280.8" cy="867.29" r="1.9"/><circle cx="282.61" cy="873.56" r="1.9"/><circle cx="282.19" cy="879.41" r="1.9"/><circle cx="284.7" cy="888.32" r="1.9"/><circle cx="289.44" cy="889.71" r="1.9"/><circle cx="290.97" cy="878.15" r="1.9"/><circle cx="291.94" cy="877.46" r="1.9"/><circle cx="293.34" cy="888.6" r="1.9"/><circle cx="295.43" cy="890.69" r="1.9"/><circle cx="297.93" cy="890.69" r="1.9"/><circle cx="301.28" cy="887.21" r="1.9"/><circle cx="303.09" cy="889.3" r="1.9"/><circle cx="305.18" cy="890.69" r="1.9"/><circle cx="307.96" cy="890.69" r="1.9"/><circle cx="310.75" cy="890.69" r="1.9"/><circle cx="313.11" cy="883.17" r="1.9"/><circle cx="318.41" cy="871.33" r="1.9"/><circle cx="317.71" cy="867.01" r="1.9"/><circle cx="319.8" cy="865.62" r="1.9"/><circle cx="321.47" cy="860.47" r="1.9"/><circle cx="322.72" cy="854.75" r="1.9"/><circle cx="319.94" cy="841.94" r="1.9"/><circle cx="324.4" cy="820.63" r="1.9"/><circle cx="325.23" cy="794.31" r="1.9"/><circle cx="325.93" cy="806.15" r="1.9"/><circle cx="327.88" cy="830.1" r="1.9"/><circle cx="329.27" cy="838.88" r="1.9"/><circle cx="330.94" cy="842.22" r="1.9"/><circle cx="330.25" cy="822.16" r="1.9"/><circle cx="331.64" cy="803.36" r="1.9"/><circle cx="332.61" cy="862.42" r="1.9"/><circle cx="337.21" cy="889.99" r="1.9"/><circle cx="344.59" cy="870.49" r="1.9"/><circle cx="347.65" cy="833.86" r="1.9"/><circle cx="347.93" cy="814.09" r="1.9"/><circle cx="350.02" cy="813.39" r="1.9"/><circle cx="351.83" cy="853.78" r="1.9"/><circle cx="354.06" cy="789.85" r="1.9"/><circle cx="355.31" cy="810.88" r="1.9"/><circle cx="356.15" cy="850.99" r="1.9"/><circle cx="358.38" cy="876.34" r="1.9"/><circle cx="361.72" cy="787.62" r="1.9"/><circle cx="361.72" cy="797.37" r="1.9"/><circle cx="364" cy="782.4" r="1.9"/><circle cx="365.7" cy="782.9" r="1.9"/><circle cx="364" cy="784.6" r="1.9"/><circle cx="363.5" cy="787.4" r="1.9"/><circle cx="367.4" cy="784.6" r="1.9"/><circle cx="369.6" cy="781.8" r="1.9"/><circle cx="371.3" cy="782.4" r="1.9"/><circle cx="370.7" cy="785.1" r="1.9"/><circle cx="372.9" cy="786.3" r="1.9"/><circle cx="374.6" cy="788.5" r="1.9"/><circle cx="376.8" cy="787.4" r="1.9"/><circle cx="375.7" cy="791.3" r="1.9"/><circle cx="369.6" cy="791.3" r="1.9"/><circle cx="371" cy="795.2" r="1.9"/><circle cx="368.8" cy="798" r="1.9"/><circle cx="362.9" cy="797.4" r="1.9"/><circle cx="369.6" cy="806.6" r="1.9"/><circle cx="372.4" cy="789.6" r="1.9"/><circle cx="378.5" cy="782.9" r="1.9"/><circle cx="381.3" cy="782.9" r="1.9"/><circle cx="384.6" cy="787.6" r="1.9"/><circle cx="398" cy="786.8" r="1.9"/><circle cx="416.9" cy="783.5" r="1.9"/><circle cx="428.6" cy="785.1" r="1.9"/><circle cx="441.4" cy="793.8" r="1.9"/><circle cx="481.6" cy="794.6" r="1.9"/><circle cx="495.7" cy="790.2" r="1.9"/><circle cx="457.3" cy="786.8" r="1.9"/><circle cx="469.5" cy="786.8" r="1.9"/><circle cx="482.4" cy="790.2" r="1.9"/><circle cx="536.6" cy="789.8" r="1.9"/><circle cx="553.9" cy="787.4" r="1.9"/><circle cx="578" cy="788.5" r="1.9"/><circle cx="578.4" cy="790.7" r="1.9"/><circle cx="578.2" cy="794.6" r="1.9"/><circle cx="578.6" cy="798" r="1.9"/><circle cx="580.1" cy="800.2" r="1.9"/><circle cx="579" cy="810.8" r="1.9"/><circle cx="597.6" cy="797.4" r="1.9"/><circle cx="599.6" cy="802.1" r="1.9"/><circle cx="612.1" cy="797.7" r="1.9"/><circle cx="613.7" cy="790.7" r="1.9"/><circle cx="641.8" cy="796.6" r="1.9"/><circle cx="658.3" cy="798" r="1.9"/><circle cx="650.3" cy="806.6" r="1.9"/><circle cx="649.4" cy="810.9" r="1.9"/><circle cx="651.5" cy="812.4" r="1.9"/><circle cx="653.6" cy="814.4" r="1.9"/><circle cx="660.6" cy="812.4" r="1.9"/><circle cx="642.5" cy="826.2" r="1.9"/><circle cx="645.3" cy="827" r="1.9"/><circle cx="647.6" cy="835" r="1.9"/><circle cx="647.4" cy="837.3" r="1.9"/><circle cx="655.4" cy="833.2" r="1.9"/><circle cx="658.9" cy="837.9" r="1.9"/><circle cx="661.3" cy="875.1" r="1.9"/><circle cx="663.4" cy="873.3" r="1.9"/><circle cx="663.4" cy="881.6" r="1.9"/><circle cx="84.62" cy="886.74" r="1.9"/><circle cx="86.3" cy="889.67" r="1.9"/><circle cx="87.97" cy="889.25" r="1.9"/><circle cx="91.73" cy="890.08" r="1.9"/><circle cx="94.23" cy="889.67" r="1.9"/><circle cx="96.74" cy="889.25" r="1.9"/><circle cx="98.83" cy="888.83" r="1.9"/><circle cx="100.08" cy="888.41" r="1.9"/><circle cx="101.75" cy="889.25" r="1.9"/><circle cx="103.43" cy="890.25" r="1.9"/><circle cx="363.76" cy="782.36" r="1.9"/><circle cx="365.85" cy="781.94" r="1.9"/><circle cx="365.01" cy="784.86" r="1.9"/><circle cx="362.92" cy="786.95" r="1.9"/><circle cx="366.69" cy="786.53" r="1.9"/><circle cx="370.45" cy="781.94" r="1.9"/><circle cx="371.7" cy="783.19" r="1.9"/><circle cx="372.53" cy="784.86" r="1.9"/><circle cx="374.21" cy="786.53" r="1.9"/><circle cx="375.46" cy="788.21" r="1.9"/><circle cx="376.71" cy="785.7" r="1.9"/><circle cx="377.97" cy="783.61" r="1.9"/><circle cx="375.04" cy="791.13" r="1.9"/><circle cx="369.61" cy="791.13" r="1.9"/><circle cx="370.86" cy="794.89" r="1.9"/><circle cx="368.36" cy="796.56" r="1.9"/><circle cx="362.92" cy="796.98" r="1.9"/><circle cx="379.22" cy="784.86" r="1.9"/><circle cx="384.23" cy="787.37" r="1.9"/><circle cx="397.6" cy="786.53" r="1.9"/><circle cx="399.28" cy="787.37" r="1.9"/><circle cx="417.66" cy="783.61" r="1.9"/><circle cx="441.3" cy="793.6" r="1.9"/><circle cx="495.9" cy="790.3" r="1.9"/><circle cx="481.7" cy="794.5" r="1.9"/><circle cx="536.7" cy="789.5" r="1.9"/><circle cx="597.1" cy="796.6" r="1.9"/><circle cx="611.8" cy="796.6" r="1.9"/><circle cx="578.3" cy="796.6" r="1.9"/><circle cx="641.7" cy="796.4" r="1.9"/><circle cx="658.4" cy="797.4" r="1.9"/><circle cx="371.79" cy="780.68" r="1.9"/><circle cx="372.12" cy="784.89" r="1.9"/><circle cx="372.92" cy="781.73" r="1.9"/><circle cx="372.65" cy="783.63" r="1.9"/><circle cx="373.96" cy="778.8" r="1.9"/><circle cx="373.66" cy="783.74" r="1.9"/><circle cx="375.2" cy="780.68" r="1.9"/><circle cx="374.7" cy="783.13" r="1.9"/><circle cx="376.27" cy="781.6" r="1.9"/><circle cx="376.06" cy="782.75" r="1.9"/><circle cx="376.73" cy="783.16" r="1.9"/><circle cx="377.29" cy="782.81" r="1.9"/><circle cx="377.77" cy="779.26" r="1.9"/><circle cx="377.85" cy="781.86" r="1.9"/><circle cx="379.05" cy="779.41" r="1.9"/><circle cx="379.11" cy="782.46" r="1.9"/><circle cx="379.74" cy="780.89" r="1.9"/><circle cx="379.65" cy="782.44" r="1.9"/><circle cx="380.96" cy="781.13" r="1.9"/><circle cx="380.85" cy="781.38" r="1.9"/><circle cx="381.88" cy="780.08" r="1.9"/><circle cx="382.24" cy="780.75" r="1.9"/><circle cx="383.04" cy="779.29" r="1.9"/><circle cx="383.02" cy="780.01" r="1.9"/><circle cx="383.87" cy="780.32" r="1.9"/><circle cx="384.38" cy="780.77" r="1.9"/><circle cx="385.15" cy="779.39" r="1.9"/><circle cx="384.72" cy="779.72" r="1.9"/><circle cx="386.1" cy="778.67" r="1.9"/><circle cx="386.21" cy="779.58" r="1.9"/><circle cx="386.89" cy="780.26" r="1.9"/><circle cx="387.16" cy="779.55" r="1.9"/><circle cx="387.97" cy="779.7" r="1.9"/><circle cx="388.27" cy="778.99" r="1.9"/><circle cx="389.1" cy="779.5" r="1.9"/><circle cx="388.65" cy="779.38" r="1.9"/><circle cx="390.3" cy="779.83" r="1.9"/><circle cx="390.26" cy="780.04" r="1.9"/><circle cx="391.1" cy="779.33" r="1.9"/><circle cx="390.62" cy="779.76" r="1.9"/><circle cx="391.77" cy="778.92" r="1.9"/><circle cx="391.65" cy="779.27" r="1.9"/><circle cx="392.85" cy="778.97" r="1.9"/><circle cx="392.91" cy="780.09" r="1.9"/><circle cx="393.97" cy="778.91" r="1.9"/><circle cx="394.04" cy="781.05" r="1.9"/><circle cx="395.22" cy="782.57" r="1.9"/><circle cx="394.82" cy="782.78" r="1.9"/><circle cx="396.23" cy="780.69" r="1.9"/><circle cx="396.37" cy="784.19" r="1.9"/><circle cx="396.84" cy="779.8" r="1.9"/><circle cx="396.79" cy="784.63" r="1.9"/><circle cx="397.86" cy="782.32" r="1.9"/><circle cx="397.6" cy="784.25" r="1.9"/><circle cx="399.04" cy="780.57" r="1.9"/><circle cx="399.36" cy="782.83" r="1.9"/><circle cx="400.07" cy="780.84" r="1.9"/><circle cx="400.14" cy="782.87" r="1.9"/><circle cx="401.17" cy="781.63" r="1.9"/><circle cx="401.3" cy="780.7" r="1.9"/><circle cx="401.94" cy="779.54" r="1.9"/><circle cx="401.68" cy="779.98" r="1.9"/><circle cx="402.74" cy="778.72" r="1.9"/><circle cx="402.77" cy="780.24" r="1.9"/><circle cx="403.73" cy="779.25" r="1.9"/><circle cx="403.6" cy="780.26" r="1.9"/><circle cx="404.92" cy="778.79" r="1.9"/><circle cx="404.62" cy="779.1" r="1.9"/><circle cx="405.79" cy="779.77" r="1.9"/><circle cx="405.8" cy="779.94" r="1.9"/><circle cx="406.77" cy="779.29" r="1.9"/><circle cx="407.28" cy="778.91" r="1.9"/><circle cx="407.99" cy="779.49" r="1.9"/><circle cx="407.67" cy="780.34" r="1.9"/><circle cx="408.86" cy="779.25" r="1.9"/><circle cx="409.26" cy="780.24" r="1.9"/><circle cx="410.27" cy="778.64" r="1.9"/><circle cx="410.02" cy="780.27" r="1.9"/><circle cx="410.72" cy="779.63" r="1.9"/><circle cx="411.02" cy="778.93" r="1.9"/><circle cx="412.12" cy="780.24" r="1.9"/><circle cx="411.81" cy="779.91" r="1.9"/><circle cx="413.16" cy="778.97" r="1.9"/><circle cx="413.03" cy="779.54" r="1.9"/><circle cx="413.83" cy="779.42" r="1.9"/><circle cx="414.25" cy="779.51" r="1.9"/><circle cx="415.18" cy="780.96" r="1.9"/><circle cx="415.25" cy="780.19" r="1.9"/><circle cx="416.01" cy="779.29" r="1.9"/><circle cx="415.88" cy="781.62" r="1.9"/><circle cx="416.87" cy="778.69" r="1.9"/><circle cx="416.81" cy="780.56" r="1.9"/><circle cx="417.97" cy="781.39" r="1.9"/><circle cx="418.35" cy="779.94" r="1.9"/><circle cx="418.92" cy="781.11" r="1.9"/><circle cx="418.78" cy="780.86" r="1.9"/><circle cx="419.82" cy="779.06" r="1.9"/><circle cx="420.1" cy="779.5" r="1.9"/><circle cx="420.99" cy="780.32" r="1.9"/><circle cx="421.12" cy="779.37" r="1.9"/><circle cx="422.1" cy="778.76" r="1.9"/><circle cx="422.33" cy="779.25" r="1.9"/><circle cx="422.99" cy="780.03" r="1.9"/><circle cx="422.74" cy="779.24" r="1.9"/><circle cx="424.18" cy="779.46" r="1.9"/><circle cx="424.38" cy="780.54" r="1.9"/><circle cx="425.27" cy="779.9" r="1.9"/><circle cx="425.18" cy="781.57" r="1.9"/><circle cx="425.79" cy="779.1" r="1.9"/><circle cx="426.32" cy="781.23" r="1.9"/><circle cx="427.2" cy="779.27" r="1.9"/><circle cx="427.38" cy="782.14" r="1.9"/><circle cx="428.03" cy="780.44" r="1.9"/><circle cx="427.7" cy="783.84" r="1.9"/><circle cx="429.09" cy="784.04" r="1.9"/><circle cx="429.02" cy="782.71" r="1.9"/><circle cx="430.22" cy="780.74" r="1.9"/><circle cx="430.26" cy="783.19" r="1.9"/><circle cx="430.88" cy="779.67" r="1.9"/><circle cx="430.79" cy="781.92" r="1.9"/><circle cx="431.95" cy="779.53" r="1.9"/><circle cx="431.7" cy="780.73" r="1.9"/><circle cx="432.97" cy="779.63" r="1.9"/><circle cx="433.07" cy="780.06" r="1.9"/><circle cx="434.25" cy="779.54" r="1.9"/><circle cx="434" cy="779.99" r="1.9"/><circle cx="434.71" cy="779.85" r="1.9"/><circle cx="434.95" cy="780.7" r="1.9"/><circle cx="436.18" cy="778.61" r="1.9"/><circle cx="435.74" cy="781.22" r="1.9"/><circle cx="437.03" cy="781.76" r="1.9"/><circle cx="436.86" cy="782.13" r="1.9"/><circle cx="438.17" cy="781.56" r="1.9"/><circle cx="437.68" cy="783.04" r="1.9"/><circle cx="438.87" cy="780.17" r="1.9"/><circle cx="439.22" cy="784.11" r="1.9"/><circle cx="440.16" cy="782.7" r="1.9"/><circle cx="440.33" cy="785.19" r="1.9"/><circle cx="441" cy="782.82" r="1.9"/><circle cx="441.01" cy="784.37" r="1.9"/><circle cx="442.02" cy="781.33" r="1.9"/><circle cx="441.98" cy="783.14" r="1.9"/><circle cx="443.23" cy="782.24" r="1.9"/><circle cx="443.35" cy="783.39" r="1.9"/><circle cx="444.27" cy="781.05" r="1.9"/><circle cx="444.27" cy="782.75" r="1.9"/><circle cx="444.97" cy="779.03" r="1.9"/><circle cx="444.66" cy="781.75" r="1.9"/><circle cx="446.1" cy="778.8" r="1.9"/><circle cx="446.23" cy="779.86" r="1.9"/><circle cx="447.13" cy="779.02" r="1.9"/><circle cx="447.13" cy="781.07" r="1.9"/><circle cx="448.28" cy="780.98" r="1.9"/><circle cx="447.78" cy="779.78" r="1.9"/><circle cx="448.99" cy="779.68" r="1.9"/><circle cx="449.39" cy="779.97" r="1.9"/><circle cx="449.96" cy="779.04" r="1.9"/><circle cx="450.01" cy="780.76" r="1.9"/><circle cx="450.89" cy="779.22" r="1.9"/><circle cx="451.18" cy="781.76" r="1.9"/><circle cx="451.96" cy="780.91" r="1.9"/><circle cx="451.61" cy="782.24" r="1.9"/><circle cx="453.01" cy="781.82" r="1.9"/><circle cx="452.65" cy="782.18" r="1.9"/><circle cx="454.28" cy="783.44" r="1.9"/><circle cx="453.68" cy="784.31" r="1.9"/><circle cx="455.17" cy="778.88" r="1.9"/><circle cx="454.82" cy="785.51" r="1.9"/><circle cx="456.25" cy="782.02" r="1.9"/><circle cx="456.26" cy="786.29" r="1.9"/><circle cx="457.25" cy="779.81" r="1.9"/><circle cx="457.06" cy="785.58" r="1.9"/><circle cx="457.73" cy="779.24" r="1.9"/><circle cx="458.15" cy="785.04" r="1.9"/><circle cx="459.26" cy="779.04" r="1.9"/><circle cx="459.11" cy="783.45" r="1.9"/><circle cx="460.21" cy="779.03" r="1.9"/><circle cx="459.65" cy="782.37" r="1.9"/><circle cx="460.9" cy="780.49" r="1.9"/><circle cx="461.04" cy="781.29" r="1.9"/><circle cx="461.78" cy="779.45" r="1.9"/><circle cx="462.02" cy="781.41" r="1.9"/><circle cx="462.8" cy="778.9" r="1.9"/><circle cx="462.64" cy="780.98" r="1.9"/><circle cx="463.88" cy="779.44" r="1.9"/><circle cx="464.21" cy="780.84" r="1.9"/><circle cx="464.81" cy="780.37" r="1.9"/><circle cx="464.88" cy="782.11" r="1.9"/><circle cx="465.71" cy="779.7" r="1.9"/><circle cx="466.19" cy="782.09" r="1.9"/><circle cx="466.98" cy="779.59" r="1.9"/><circle cx="467.35" cy="783.64" r="1.9"/><circle cx="467.96" cy="783.55" r="1.9"/><circle cx="468" cy="783.31" r="1.9"/><circle cx="469" cy="781.31" r="1.9"/><circle cx="469.15" cy="783.91" r="1.9"/><circle cx="470.2" cy="781.1" r="1.9"/><circle cx="470.17" cy="784.88" r="1.9"/><circle cx="470.91" cy="781.38" r="1.9"/><circle cx="470.64" cy="785.26" r="1.9"/><circle cx="472.14" cy="779.02" r="1.9"/><circle cx="471.8" cy="784.33" r="1.9"/><circle cx="473.2" cy="779.03" r="1.9"/><circle cx="473.3" cy="782.65" r="1.9"/><circle cx="473.85" cy="779.8" r="1.9"/><circle cx="473.83" cy="782.11" r="1.9"/><circle cx="474.97" cy="779.23" r="1.9"/><circle cx="474.81" cy="781.07" r="1.9"/><circle cx="476.03" cy="782.89" r="1.9"/><circle cx="475.8" cy="781.46" r="1.9"/><circle cx="476.91" cy="780.36" r="1.9"/><circle cx="476.6" cy="783.67" r="1.9"/><circle cx="478" cy="781.9" r="1.9"/><circle cx="477.76" cy="784.75" r="1.9"/><circle cx="478.86" cy="778.64" r="1.9"/><circle cx="478.67" cy="786.19" r="1.9"/><circle cx="479.71" cy="779" r="1.9"/><circle cx="479.84" cy="787.73" r="1.9"/><circle cx="481.02" cy="784.16" r="1.9"/><circle cx="481.2" cy="787.05" r="1.9"/><circle cx="482.23" cy="784.96" r="1.9"/><circle cx="481.91" cy="786.96" r="1.9"/><circle cx="482.79" cy="786.13" r="1.9"/><circle cx="483.18" cy="785.22" r="1.9"/><circle cx="484.2" cy="778.88" r="1.9"/><circle cx="484.31" cy="784.01" r="1.9"/><circle cx="485.19" cy="782.4" r="1.9"/><circle cx="484.71" cy="782.93" r="1.9"/><circle cx="486.2" cy="780.59" r="1.9"/><circle cx="486.24" cy="781.21" r="1.9"/><circle cx="487.24" cy="780.31" r="1.9"/><circle cx="487.15" cy="780.42" r="1.9"/><circle cx="487.72" cy="779.38" r="1.9"/><circle cx="487.71" cy="781.4" r="1.9"/><circle cx="489.2" cy="779" r="1.9"/><circle cx="489.05" cy="781.43" r="1.9"/><circle cx="490.11" cy="781.29" r="1.9"/><circle cx="489.99" cy="782.89" r="1.9"/><circle cx="491.15" cy="782.39" r="1.9"/><circle cx="491" cy="782.49" r="1.9"/><circle cx="491.74" cy="782.03" r="1.9"/><circle cx="492.19" cy="783.4" r="1.9"/><circle cx="492.86" cy="778.99" r="1.9"/><circle cx="493.18" cy="783.47" r="1.9"/><circle cx="494.29" cy="782.45" r="1.9"/><circle cx="494" cy="783.19" r="1.9"/><circle cx="495.11" cy="781.09" r="1.9"/><circle cx="495.21" cy="782.81" r="1.9"/><circle cx="495.75" cy="781.56" r="1.9"/><circle cx="495.72" cy="782.79" r="1.9"/><circle cx="496.88" cy="781.57" r="1.9"/><circle cx="497.05" cy="782.58" r="1.9"/><circle cx="497.86" cy="778.81" r="1.9"/><circle cx="498.14" cy="780.89" r="1.9"/><circle cx="498.87" cy="780.49" r="1.9"/><circle cx="499.01" cy="780.66" r="1.9"/><circle cx="499.77" cy="779.63" r="1.9"/><circle cx="500.31" cy="780.48" r="1.9"/><circle cx="501.26" cy="780.46" r="1.9"/><circle cx="500.61" cy="779.77" r="1.9"/><circle cx="502.28" cy="780.16" r="1.9"/><circle cx="501.96" cy="780.07" r="1.9"/><circle cx="503.27" cy="779" r="1.9"/><circle cx="502.77" cy="779.57" r="1.9"/><circle cx="504.01" cy="778.87" r="1.9"/><circle cx="504.36" cy="780.29" r="1.9"/><circle cx="505.01" cy="780.16" r="1.9"/><circle cx="505.31" cy="779.37" r="1.9"/><circle cx="506.24" cy="779.04" r="1.9"/><circle cx="505.99" cy="780.46" r="1.9"/><circle cx="507" cy="778.61" r="1.9"/><circle cx="506.96" cy="780.02" r="1.9"/><circle cx="507.91" cy="778.9" r="1.9"/><circle cx="507.85" cy="779.36" r="1.9"/><circle cx="509.15" cy="778.6" r="1.9"/><circle cx="509.27" cy="780.71" r="1.9"/><circle cx="510.13" cy="780.92" r="1.9"/><circle cx="510.32" cy="780.64" r="1.9"/><circle cx="510.94" cy="779.6" r="1.9"/><circle cx="511.4" cy="780.36" r="1.9"/><circle cx="511.96" cy="779.65" r="1.9"/><circle cx="511.82" cy="781.42" r="1.9"/><circle cx="513.2" cy="778.91" r="1.9"/><circle cx="512.83" cy="780.1" r="1.9"/><circle cx="513.86" cy="779.35" r="1.9"/><circle cx="514.01" cy="781.3" r="1.9"/><circle cx="515.27" cy="779.87" r="1.9"/><circle cx="515.31" cy="780.7" r="1.9"/><circle cx="516.25" cy="781" r="1.9"/><circle cx="516.35" cy="781.52" r="1.9"/><circle cx="516.73" cy="781.62" r="1.9"/><circle cx="517.19" cy="782.08" r="1.9"/><circle cx="518.09" cy="782.06" r="1.9"/><circle cx="517.83" cy="783.12" r="1.9"/><circle cx="518.78" cy="783.23" r="1.9"/><circle cx="518.98" cy="783.05" r="1.9"/><circle cx="520.14" cy="780.15" r="1.9"/><circle cx="520.38" cy="783.38" r="1.9"/><circle cx="520.88" cy="782.01" r="1.9"/><circle cx="521.05" cy="783.17" r="1.9"/><circle cx="521.8" cy="779.47" r="1.9"/><circle cx="521.77" cy="782.35" r="1.9"/><circle cx="522.83" cy="781.18" r="1.9"/><circle cx="523.33" cy="782.21" r="1.9"/><circle cx="523.78" cy="780.94" r="1.9"/><circle cx="523.75" cy="783.65" r="1.9"/><circle cx="524.75" cy="780.38" r="1.9"/><circle cx="524.79" cy="783.39" r="1.9"/><circle cx="526.23" cy="781.22" r="1.9"/><circle cx="526.2" cy="782.54" r="1.9"/><circle cx="527.01" cy="780.26" r="1.9"/><circle cx="526.9" cy="782.06" r="1.9"/><circle cx="527.87" cy="778.81" r="1.9"/><circle cx="528.37" cy="781.8" r="1.9"/><circle cx="529.08" cy="780.01" r="1.9"/><circle cx="529.29" cy="781.05" r="1.9"/><circle cx="529.85" cy="779.38" r="1.9"/><circle cx="529.92" cy="780.76" r="1.9"/><circle cx="531.21" cy="781.7" r="1.9"/><circle cx="531.3" cy="781.81" r="1.9"/><circle cx="532.13" cy="778.73" r="1.9"/><circle cx="532.32" cy="781.76" r="1.9"/><circle cx="532.7" cy="781.3" r="1.9"/><circle cx="532.91" cy="781.71" r="1.9"/><circle cx="534.21" cy="782.95" r="1.9"/><circle cx="534.38" cy="783.47" r="1.9"/><circle cx="534.79" cy="779.21" r="1.9"/><circle cx="535.02" cy="783.11" r="1.9"/><circle cx="536.13" cy="783.87" r="1.9"/><circle cx="536.12" cy="782.98" r="1.9"/><circle cx="537.03" cy="781.16" r="1.9"/><circle cx="536.63" cy="782.95" r="1.9"/><circle cx="538.25" cy="779.78" r="1.9"/><circle cx="538.12" cy="783.19" r="1.9"/><circle cx="538.85" cy="779.18" r="1.9"/><circle cx="539.11" cy="782.03" r="1.9"/><circle cx="539.74" cy="779.05" r="1.9"/><circle cx="540.02" cy="781.69" r="1.9"/><circle cx="540.83" cy="779.95" r="1.9"/><circle cx="541.08" cy="782.07" r="1.9"/><circle cx="541.98" cy="779.49" r="1.9"/><circle cx="542.37" cy="780.53" r="1.9"/><circle cx="542.99" cy="780.99" r="1.9"/><circle cx="542.79" cy="780.9" r="1.9"/><circle cx="544.12" cy="781.19" r="1.9"/><circle cx="543.85" cy="781.27" r="1.9"/><circle cx="545.1" cy="779.95" r="1.9"/><circle cx="544.94" cy="780.89" r="1.9"/><circle cx="546.26" cy="780.4" r="1.9"/><circle cx="545.78" cy="781.25" r="1.9"/><circle cx="546.95" cy="779.64" r="1.9"/><circle cx="547.15" cy="781.36" r="1.9"/><circle cx="548.14" cy="781.67" r="1.9"/><circle cx="548" cy="782.12" r="1.9"/><circle cx="548.89" cy="783.07" r="1.9"/><circle cx="549.26" cy="782.84" r="1.9"/><circle cx="550.16" cy="779.79" r="1.9"/><circle cx="549.84" cy="782.45" r="1.9"/><circle cx="550.81" cy="781.64" r="1.9"/><circle cx="550.78" cy="784.07" r="1.9"/><circle cx="552.27" cy="783.19" r="1.9"/><circle cx="551.72" cy="784.87" r="1.9"/><circle cx="553.28" cy="780.07" r="1.9"/><circle cx="552.71" cy="785.42" r="1.9"/><circle cx="553.94" cy="778.97" r="1.9"/><circle cx="554.32" cy="783.32" r="1.9"/><circle cx="555.3" cy="782.54" r="1.9"/><circle cx="555.35" cy="783.45" r="1.9"/><circle cx="556.26" cy="779.46" r="1.9"/><circle cx="556.2" cy="783.16" r="1.9"/><circle cx="556.93" cy="781.16" r="1.9"/><circle cx="556.9" cy="781.91" r="1.9"/><circle cx="557.7" cy="779.12" r="1.9"/><circle cx="557.82" cy="781.12" r="1.9"/><circle cx="558.77" cy="781.18" r="1.9"/><circle cx="559.37" cy="780.97" r="1.9"/><circle cx="560.19" cy="779.56" r="1.9"/><circle cx="560.26" cy="780.61" r="1.9"/><circle cx="560.98" cy="778.73" r="1.9"/><circle cx="560.9" cy="779.83" r="1.9"/><circle cx="561.92" cy="779.12" r="1.9"/><circle cx="562.32" cy="781.25" r="1.9"/><circle cx="563.19" cy="779.71" r="1.9"/><circle cx="563.21" cy="781.23" r="1.9"/><circle cx="563.74" cy="778.69" r="1.9"/><circle cx="564.34" cy="780.89" r="1.9"/><circle cx="565.24" cy="780.62" r="1.9"/><circle cx="564.87" cy="780.86" r="1.9"/><circle cx="566.07" cy="781.19" r="1.9"/><circle cx="565.81" cy="780.15" r="1.9"/><circle cx="566.87" cy="779.45" r="1.9"/><circle cx="566.6" cy="780.09" r="1.9"/><circle cx="568.08" cy="781.07" r="1.9"/><circle cx="568.35" cy="781.26" r="1.9"/><circle cx="568.99" cy="779.23" r="1.9"/><circle cx="569.37" cy="779.77" r="1.9"/><circle cx="569.85" cy="779.64" r="1.9"/><circle cx="569.94" cy="780.51" r="1.9"/><circle cx="570.81" cy="781.11" r="1.9"/><circle cx="571.24" cy="780.12" r="1.9"/><circle cx="572.16" cy="780.82" r="1.9"/><circle cx="572.09" cy="780.78" r="1.9"/><circle cx="572.92" cy="779.57" r="1.9"/><circle cx="573.23" cy="781.5" r="1.9"/><circle cx="574.15" cy="779.26" r="1.9"/><circle cx="573.8" cy="781.85" r="1.9"/><circle cx="575.03" cy="778.72" r="1.9"/><circle cx="574.86" cy="780.71" r="1.9"/><circle cx="576.29" cy="782.14" r="1.9"/><circle cx="575.81" cy="782.47" r="1.9"/><circle cx="577" cy="779.02" r="1.9"/><circle cx="577.17" cy="782.22" r="1.9"/><circle cx="577.95" cy="779.65" r="1.9"/><circle cx="578.1" cy="782.02" r="1.9"/><circle cx="579.21" cy="781.97" r="1.9"/><circle cx="579.13" cy="782.91" r="1.9"/><circle cx="579.88" cy="782.81" r="1.9"/><circle cx="580.05" cy="783.01" r="1.9"/><circle cx="580.82" cy="782.67" r="1.9"/><circle cx="580.8" cy="783.73" r="1.9"/><circle cx="582.23" cy="779.52" r="1.9"/><circle cx="582.06" cy="784.11" r="1.9"/><circle cx="583.3" cy="781.19" r="1.9"/><circle cx="583.01" cy="784.77" r="1.9"/><circle cx="584.09" cy="784.3" r="1.9"/><circle cx="584.39" cy="785.48" r="1.9"/><circle cx="585.19" cy="782.07" r="1.9"/><circle cx="585.27" cy="784.44" r="1.9"/><circle cx="585.88" cy="778.89" r="1.9"/><circle cx="585.7" cy="785.6" r="1.9"/><circle cx="587.05" cy="785.7" r="1.9"/><circle cx="587.34" cy="785.3" r="1.9"/><circle cx="587.97" cy="784.92" r="1.9"/><circle cx="587.81" cy="784.66" r="1.9"/><circle cx="588.76" cy="785.5" r="1.9"/><circle cx="589.08" cy="784.91" r="1.9"/><circle cx="589.92" cy="780.19" r="1.9"/><circle cx="589.71" cy="785.57" r="1.9"/><circle cx="591.06" cy="780.46" r="1.9"/><circle cx="591.12" cy="785.57" r="1.9"/><circle cx="591.9" cy="778.68" r="1.9"/><circle cx="592.14" cy="785.6" r="1.9"/><circle cx="592.82" cy="781.04" r="1.9"/><circle cx="593.24" cy="785.55" r="1.9"/><circle cx="593.76" cy="779.13" r="1.9"/><circle cx="593.92" cy="786.07" r="1.9"/><circle cx="594.75" cy="784.28" r="1.9"/><circle cx="594.73" cy="786.37" r="1.9"/><circle cx="595.87" cy="782.46" r="1.9"/><circle cx="595.85" cy="786.48" r="1.9"/><circle cx="597.04" cy="781.7" r="1.9"/><circle cx="596.89" cy="787.87" r="1.9"/><circle cx="598.3" cy="786.76" r="1.9"/><circle cx="597.89" cy="787.72" r="1.9"/><circle cx="598.82" cy="784.91" r="1.9"/><circle cx="598.6" cy="785.83" r="1.9"/><circle cx="600.19" cy="781.95" r="1.9"/><circle cx="599.92" cy="785.1" r="1.9"/><circle cx="600.8" cy="781.89" r="1.9"/><circle cx="600.61" cy="784.86" r="1.9"/><circle cx="602.25" cy="782.69" r="1.9"/><circle cx="601.67" cy="783.99" r="1.9"/><circle cx="603" cy="780.83" r="1.9"/><circle cx="602.72" cy="784.15" r="1.9"/><circle cx="604.26" cy="781.73" r="1.9"/><circle cx="603.69" cy="783.82" r="1.9"/><circle cx="605.28" cy="783.43" r="1.9"/><circle cx="604.76" cy="784.4" r="1.9"/><circle cx="606.29" cy="784.26" r="1.9"/><circle cx="605.99" cy="784.51" r="1.9"/><circle cx="606.93" cy="784.16" r="1.9"/><circle cx="607.32" cy="783.61" r="1.9"/><circle cx="607.8" cy="784.18" r="1.9"/><circle cx="608.23" cy="785.01" r="1.9"/><circle cx="609.21" cy="781.64" r="1.9"/><circle cx="609.26" cy="785.83" r="1.9"/><circle cx="609.94" cy="780.41" r="1.9"/><circle cx="610.01" cy="786.28" r="1.9"/><circle cx="610.85" cy="779.71" r="1.9"/><circle cx="611.18" cy="786.22" r="1.9"/><circle cx="612.04" cy="779" r="1.9"/><circle cx="612.21" cy="788.36" r="1.9"/><circle cx="612.77" cy="787.15" r="1.9"/><circle cx="613.08" cy="787.92" r="1.9"/><circle cx="613.88" cy="785" r="1.9"/><circle cx="613.94" cy="787.87" r="1.9"/><circle cx="615.1" cy="782.36" r="1.9"/><circle cx="614.96" cy="786.73" r="1.9"/><circle cx="616.07" cy="778.77" r="1.9"/><circle cx="615.99" cy="785.7" r="1.9"/><circle cx="617.17" cy="783.26" r="1.9"/><circle cx="616.97" cy="784.42" r="1.9"/><circle cx="617.76" cy="780.85" r="1.9"/><circle cx="617.7" cy="782.66" r="1.9"/><circle cx="618.97" cy="778.91" r="1.9"/><circle cx="619.01" cy="781.92" r="1.9"/><circle cx="619.75" cy="780.7" r="1.9"/><circle cx="620.19" cy="780.66" r="1.9"/><circle cx="620.73" cy="780.59" r="1.9"/><circle cx="621" cy="781.9" r="1.9"/><circle cx="621.78" cy="782.88" r="1.9"/><circle cx="622.29" cy="781.51" r="1.9"/><circle cx="623.19" cy="782.33" r="1.9"/><circle cx="622.75" cy="782.13" r="1.9"/><circle cx="624.27" cy="781.4" r="1.9"/><circle cx="624.33" cy="784.04" r="1.9"/><circle cx="625.26" cy="783.33" r="1.9"/><circle cx="624.65" cy="784.04" r="1.9"/><circle cx="625.8" cy="783.14" r="1.9"/><circle cx="626.32" cy="784.16" r="1.9"/><circle cx="626.79" cy="783.49" r="1.9"/><circle cx="627" cy="783.13" r="1.9"/><circle cx="627.86" cy="779.76" r="1.9"/><circle cx="628" cy="783.63" r="1.9"/><circle cx="628.81" cy="778.79" r="1.9"/><circle cx="628.73" cy="782.19" r="1.9"/><circle cx="630.24" cy="782.04" r="1.9"/><circle cx="629.73" cy="782.4" r="1.9"/><circle cx="631.02" cy="779.23" r="1.9"/><circle cx="631.11" cy="783.46" r="1.9"/><circle cx="632.03" cy="783.68" r="1.9"/><circle cx="632.06" cy="783.01" r="1.9"/><circle cx="633.3" cy="779.27" r="1.9"/><circle cx="633.1" cy="784.4" r="1.9"/><circle cx="633.86" cy="784.39" r="1.9"/><circle cx="634.39" cy="784.94" r="1.9"/><circle cx="635.16" cy="781.52" r="1.9"/><circle cx="634.95" cy="786.42" r="1.9"/><circle cx="635.73" cy="784.62" r="1.9"/><circle cx="636.26" cy="786.29" r="1.9"/><circle cx="637.29" cy="783.78" r="1.9"/><circle cx="637.07" cy="785.64" r="1.9"/><circle cx="637.7" cy="781.13" r="1.9"/><circle cx="637.63" cy="786.46" r="1.9"/><circle cx="638.96" cy="783.59" r="1.9"/><circle cx="639.01" cy="785.27" r="1.9"/><circle cx="639.84" cy="779.67" r="1.9"/><circle cx="640.12" cy="786.66" r="1.9"/><circle cx="640.91" cy="778.62" r="1.9"/><circle cx="640.69" cy="786.13" r="1.9"/><circle cx="642.05" cy="780.42" r="1.9"/><circle cx="642.07" cy="786.37" r="1.9"/></g><line x1="70.3" y1="892.2" x2="680.2" y2="892.2" stroke="#111" stroke-width="1.2"/><line x1="70.3" y1="778.3" x2="680.2" y2="778.3" stroke="#222" stroke-width="1.2"/><line x1="70.9" y1="777.7" x2="70.9" y2="892.8" stroke="#333" stroke-width="1.6"/><path d="M70.9 892.2v5.3M70.9 778.3v5.3M131.77 892.2v2.8M131.77 778.3v2.8M192.64 892.2v5.3M192.64 778.3v5.3M253.51 892.2v2.8M253.51 778.3v2.8M314.38 892.2v5.3M314.38 778.3v5.3M375.25 892.2v2.8M375.25 778.3v2.8M436.12 892.2v5.3M436.12 778.3v5.3M496.99 892.2v2.8M496.99 778.3v2.8M557.86 892.2v5.3M557.86 778.3v5.3M618.73 892.2v2.8M618.73 778.3v2.8M679.6 892.2v5.3M679.6 778.3v5.3M70.9 892.2h-5.8M70.9 863.73h-2.9M70.9 835.25h-5.8M70.9 806.77h-2.9M70.9 778.3h-5.8" stroke="#111" stroke-width="1.25" fill="none"/><text x="70.9" y="910.84" font-size="12" text-anchor="middle">0</text><text x="192.64" y="910.84" font-size="12" text-anchor="middle">500</text><text x="314.38" y="910.84" font-size="12" text-anchor="middle">1000</text><text x="436.12" y="910.84" font-size="12" text-anchor="middle">1500</text><text x="557.86" y="910.84" font-size="12" text-anchor="middle">2000</text><text x="679.6" y="910.84" font-size="12" text-anchor="middle">2500</text><text x="61.7" y="895.72" font-size="12" text-anchor="end">0.0</text><text x="61.7" y="838.77" font-size="12" text-anchor="end">0.5</text><text x="61.7" y="781.82" font-size="12" text-anchor="end">1.0</text><text x="15.8" y="770.1" font-size="16">E</text><text x="260.4" y="766.7" font-size="14.5" textLength="216.2" lengthAdjust="spacingAndGlyphs">Predicted MUC-6 O-glycosylation</text><text x="339.4" y="919.7" font-size="14.5" textLength="71.9" lengthAdjust="spacingAndGlyphs">Amino acid</text><text transform="translate(35.2,835.1) rotate(-90)" x="0" y="0" font-size="15.5" text-anchor="middle" textLength="101.8" lengthAdjust="spacingAndGlyphs">NetOGlycScore</text></g>
<g><clipPath id="cF"><rect x="72.4" y="961.2" width="617.3" height="115.3"/></clipPath><line x1="72.4" y1="1016.95" x2="685.7" y2="1016.95" stroke="#fb8a1a" stroke-width="1.5"/><g fill="#02b3f4" clip-path="url(#cF)"><circle cx="101.6" cy="1063.3" r="1.9"/><circle cx="110.1" cy="1055.3" r="1.9"/><circle cx="116.4" cy="1068.2" r="1.9"/><circle cx="138.4" cy="1049.5" r="1.9"/><circle cx="145.8" cy="1068.9" r="1.9"/><circle cx="166.7" cy="1067.3" r="1.9"/><circle cx="198.6" cy="1060" r="1.9"/><circle cx="205.9" cy="1065.8" r="1.9"/><circle cx="221.8" cy="1063.3" r="1.9"/><circle cx="235.5" cy="1047.9" r="1.9"/><circle cx="239" cy="1026.3" r="1.9"/><circle cx="245.1" cy="1040.6" r="1.9"/><circle cx="256.2" cy="1013.4" r="1.9"/><circle cx="266" cy="1044.6" r="1.9"/><circle cx="284.5" cy="1030.8" r="1.9"/><circle cx="287.2" cy="1029.2" r="1.9"/><circle cx="311.5" cy="1047.5" r="1.9"/><circle cx="322.6" cy="1032.1" r="1.9"/><circle cx="321.3" cy="1052.8" r="1.9"/><circle cx="329.7" cy="1044.8" r="1.9"/><circle cx="332.2" cy="1065.8" r="1.9"/><circle cx="355.4" cy="1031.2" r="1.9"/><circle cx="356.7" cy="1069.3" r="1.9"/><circle cx="364.1" cy="1064.9" r="1.9"/><circle cx="384" cy="1033.2" r="1.9"/><circle cx="404.5" cy="1033.4" r="1.9"/><circle cx="413.2" cy="1047" r="1.9"/><circle cx="442.6" cy="1056.4" r="1.9"/><circle cx="452.4" cy="1029.2" r="1.9"/><circle cx="454.9" cy="1048.1" r="1.9"/><circle cx="466.9" cy="1048.6" r="1.9"/><circle cx="473.4" cy="1013.8" r="1.9"/><circle cx="483.2" cy="1057.7" r="1.9"/><circle cx="490.5" cy="1037" r="1.9"/><circle cx="495.2" cy="1010.3" r="1.9"/><circle cx="505" cy="1054.2" r="1.9"/><circle cx="539.5" cy="1061.3" r="1.9"/><circle cx="543" cy="1059.5" r="1.9"/><circle cx="546.8" cy="1065.8" r="1.9"/><circle cx="549.3" cy="1059.5" r="1.9"/><circle cx="551.7" cy="1028.3" r="1.9"/><circle cx="553.1" cy="1038.1" r="1.9"/><circle cx="555.5" cy="1070.2" r="1.9"/><circle cx="557.7" cy="1067.8" r="1.9"/><circle cx="577.6" cy="1068.2" r="1.9"/><circle cx="587.2" cy="1071.3" r="1.9"/><circle cx="607" cy="1033.9" r="1.9"/><circle cx="611.7" cy="1031" r="1.9"/><circle cx="610.5" cy="1037.2" r="1.9"/><circle cx="639.7" cy="1042.4" r="1.9"/><circle cx="642.4" cy="1043.2" r="1.9"/><circle cx="643.8" cy="1024.3" r="1.9"/><circle cx="646.2" cy="1038.3" r="1.9"/><circle cx="649.5" cy="1005.1" r="1.9"/><circle cx="657.3" cy="1013.4" r="1.9"/><circle cx="660.7" cy="1020.7" r="1.9"/><circle cx="666.9" cy="1054.6" r="1.9"/><circle cx="684.3" cy="1066.6" r="1.9"/></g><line x1="71.8" y1="1073.1" x2="686.3" y2="1073.1" stroke="#111" stroke-width="1.2"/><line x1="71.8" y1="960.8" x2="686.3" y2="960.8" stroke="#666" stroke-width="1.2"/><line x1="72.4" y1="960.2" x2="72.4" y2="1073.7" stroke="#6e6e6e" stroke-width="1.5"/><path d="M72.4 1073.1v5.2M72.4 960.8v5.2M133.73 1073.1v2.8M133.73 960.8v2.8M195.06 1073.1v5.2M195.06 960.8v5.2M256.39 1073.1v2.8M256.39 960.8v2.8M317.72 1073.1v5.2M317.72 960.8v5.2M379.05 1073.1v2.8M379.05 960.8v2.8M440.38 1073.1v5.2M440.38 960.8v5.2M501.71 1073.1v2.8M501.71 960.8v2.8M563.04 1073.1v5.2M563.04 960.8v5.2M624.37 1073.1v2.8M624.37 960.8v2.8M685.7 1073.1v5.2M685.7 960.8v5.2M72.4 1073.1h-5.7M72.4 1045.02h-2.9M72.4 1016.95h-5.7M72.4 988.88h-2.9M72.4 960.8h-5.7" stroke="#111" stroke-width="1.25" fill="none"/><text x="72.4" y="1091.64" font-size="12" text-anchor="middle">0</text><text x="195.06" y="1091.64" font-size="12" text-anchor="middle">100</text><text x="317.72" y="1091.64" font-size="12" text-anchor="middle">200</text><text x="440.38" y="1091.64" font-size="12" text-anchor="middle">300</text><text x="563.04" y="1091.64" font-size="12" text-anchor="middle">400</text><text x="685.7" y="1091.64" font-size="12" text-anchor="middle">500</text><text x="63.4" y="1076.62" font-size="12" text-anchor="end">0.0</text><text x="63.4" y="1020.47" font-size="12" text-anchor="end">0.5</text><text x="63.4" y="964.32" font-size="12" text-anchor="end">1.0</text><text x="13.2" y="955.9" font-size="16" style="stroke-width:0">F</text><text x="269.9" y="952.6" font-size="14.5" textLength="201.9" lengthAdjust="spacingAndGlyphs">Predicted LTF O-glycosylation</text><text x="343.9" y="1103.8" font-size="14.5" textLength="72" lengthAdjust="spacingAndGlyphs">Amino acid</text><text transform="translate(37.4,1016.55) rotate(-90)" x="0" y="0" font-size="15.5" text-anchor="middle" textLength="102.5" lengthAdjust="spacingAndGlyphs">NetOGlycScore</text></g>
</svg></body></html>
